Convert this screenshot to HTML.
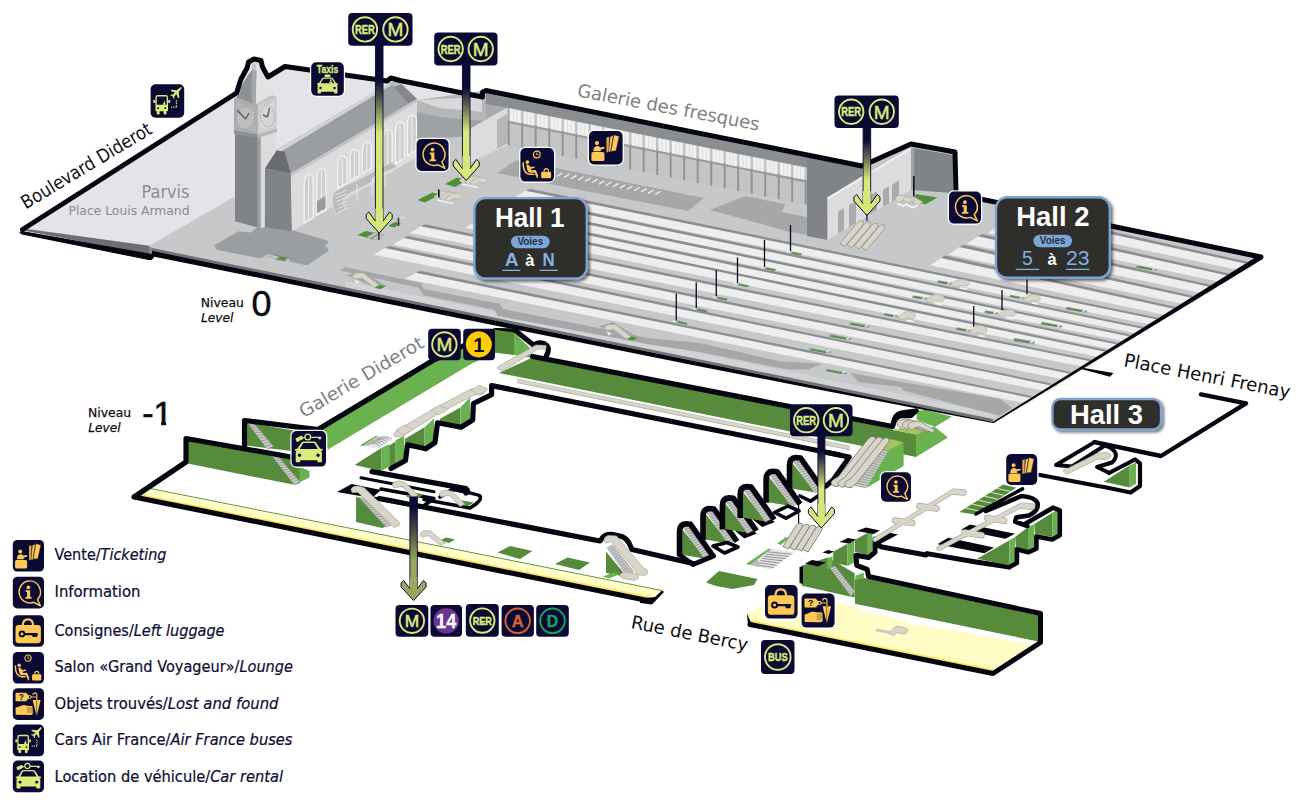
<!DOCTYPE html>
<html lang="fr"><head><meta charset="utf-8"><title>Gare de Lyon - Plan</title>
<style>
html,body{margin:0;padding:0;background:#fff;}
body{width:1300px;height:804px;overflow:hidden;font-family:"DejaVu Sans","Liberation Sans",sans-serif;}
svg{display:block;}
.lib{font-family:"Liberation Sans",sans-serif;}
</style></head><body>
<svg width="1300" height="804" viewBox="0 0 1300 804">
<g id="levelm1">
<polygon points="136.0,494.5 148.0,488.0 662.0,590.5 655.0,597.0 640.0,598.5" fill="#fffcc6" />
<polyline points="138.0,494.8 650.0,597.7" fill="none" stroke="#f3e85a" stroke-width="2.2" />
<polyline points="148.0,488.0 662.0,590.5" fill="none" stroke="#4f8a3a" stroke-width="0.9" />
<polygon points="246.0,422.5 300.0,431.5 300.0,452.0 246.0,445.5" fill="#568b3c" />
<polygon points="247.0,422.0 253.5,423.0 273.5,446.5 267.0,449.0" fill="#c9c9c9" /><path d="M247.0,422.0 L253.5,423.0" stroke="#8a8a8a" stroke-width="0.7"/><path d="M249.0,424.7 L255.5,425.4" stroke="#8a8a8a" stroke-width="0.7"/><path d="M251.0,427.4 L257.5,427.7" stroke="#8a8a8a" stroke-width="0.7"/><path d="M253.0,430.1 L259.5,430.1" stroke="#8a8a8a" stroke-width="0.7"/><path d="M255.0,432.8 L261.5,432.4" stroke="#8a8a8a" stroke-width="0.7"/><path d="M257.0,435.5 L263.5,434.8" stroke="#8a8a8a" stroke-width="0.7"/><path d="M259.0,438.2 L265.5,437.1" stroke="#8a8a8a" stroke-width="0.7"/><path d="M261.0,440.9 L267.5,439.4" stroke="#8a8a8a" stroke-width="0.7"/><path d="M263.0,443.6 L269.5,441.8" stroke="#8a8a8a" stroke-width="0.7"/><path d="M265.0,446.3 L271.5,444.1" stroke="#8a8a8a" stroke-width="0.7"/><path d="M267.0,449.0 L273.5,446.5" stroke="#8a8a8a" stroke-width="0.7"/>
<polygon points="319.0,430.5 432.0,362.5 497.0,330.5 497.0,352.0 471.0,364.0 328.0,449.5" fill="#6ab150" />
<polygon points="187.7,440.0 300.0,459.5 300.0,483.0 294.3,484.8 187.7,463.5" fill="#568b3c" />
<polygon points="299.4,466.8 309.5,471.0 309.5,477.5 299.4,482.3" fill="#6ab150" />
<polygon points="271.5,455.3 278.0,456.3 299.8,481.8 294.3,484.8" fill="#c9c9c9" /><path d="M271.5,455.3 L278.0,456.3" stroke="#8a8a8a" stroke-width="0.7"/><path d="M273.4,457.8 L279.8,458.4" stroke="#8a8a8a" stroke-width="0.7"/><path d="M275.3,460.2 L281.6,460.6" stroke="#8a8a8a" stroke-width="0.7"/><path d="M277.2,462.7 L283.4,462.7" stroke="#8a8a8a" stroke-width="0.7"/><path d="M279.1,465.1 L285.3,464.8" stroke="#8a8a8a" stroke-width="0.7"/><path d="M281.0,467.6 L287.1,466.9" stroke="#8a8a8a" stroke-width="0.7"/><path d="M282.9,470.1 L288.9,469.1" stroke="#8a8a8a" stroke-width="0.7"/><path d="M284.8,472.5 L290.7,471.2" stroke="#8a8a8a" stroke-width="0.7"/><path d="M286.7,475.0 L292.5,473.3" stroke="#8a8a8a" stroke-width="0.7"/><path d="M288.6,477.4 L294.4,475.4" stroke="#8a8a8a" stroke-width="0.7"/><path d="M290.5,479.9 L296.2,477.6" stroke="#8a8a8a" stroke-width="0.7"/><path d="M292.4,482.3 L298.0,479.7" stroke="#8a8a8a" stroke-width="0.7"/><path d="M294.3,484.8 L299.8,481.8" stroke="#8a8a8a" stroke-width="0.7"/>
<path d="M650,601 L134,497 L186,462 L186,438.5 L291,457" fill="none" stroke="#05050f" stroke-width="5.2" stroke-linejoin="round" stroke-linecap="round" />
<path d="M244.5,448.5 L244.5,420.5 L318,429.6 L432,361 L495,330.5 L516,331 L534,345.5" fill="none" stroke="#05050f" stroke-width="5.2" stroke-linejoin="round" stroke-linecap="round" />
<polygon points="640.0,598.5 655.0,597.0 662.0,590.5 664.0,592.0 652.0,604.5 640.0,603.0" fill="#05050f" />
<polygon points="494.0,329.5 514.0,332.5 514.0,355.0 494.0,352.5" fill="#568b3c" />
<polygon points="514.0,332.5 530.0,348.0 530.0,357.5 514.0,355.0" fill="#6ab150" />
<polygon points="532.5,357.5 892.5,429.0 892.5,452.0 850.0,443.5 499.0,373.0" fill="#568b3c" />
<polyline points="517.0,380.8 850.0,448.0" fill="none" stroke="#ffffff" stroke-width="6" />
<polyline points="517.0,380.8 850.0,448.0" fill="none" stroke="#d9d6c9" stroke-width="3.4" />
<polyline points="517.0,382.6 850.0,449.8" fill="none" stroke="#a8a69c" stroke-width="0.8" />
<polyline points="517.0,379.0 850.0,446.2" fill="none" stroke="#a8a69c" stroke-width="0.6" />
<path d="M532.5,356.5 L892.5,426.5 L894.5,419 Q897,413 904,412.5 L916,411" fill="none" stroke="#05050f" stroke-width="5.2" stroke-linejoin="round" stroke-linecap="round" />
<path d="M534,345.5 Q537,341.5 544,343.5 Q549.5,346 548,352 L546,357" fill="none" stroke="#05050f" stroke-width="5.2" stroke-linejoin="round" stroke-linecap="round" />
<path d="M497,368 L502,371.5 L538,349 L546,349 L546,345.5 L536,345 L499,366 Z" fill="#d9d6c9" stroke="#a8a69c" stroke-width="0.7"/>
<polygon points="440.0,418.7 460.3,407.6 460.3,425.8 440.0,421.8" fill="#568b3c" />
<polygon points="460.3,407.6 470.0,397.5 470.0,420.5 460.3,425.8" fill="#6ab150" />
<polygon points="404.8,439.0 424.4,427.2 424.4,446.5 404.8,443.0" fill="#568b3c" />
<polygon points="424.4,427.2 434.0,418.5 434.0,441.6 424.4,446.5" fill="#6ab150" />
<polygon points="354.6,465.0 381.3,448.0 381.3,471.0" fill="#568b3c" />
<polygon points="381.3,448.0 389.2,444.2 389.2,466.4 381.3,471.0" fill="#6ab150" />
<polygon points="389.2,445.5 395.7,441.6 395.7,463.8 389.2,466.4" fill="#568b3c" />
<polygon points="395.7,440.3 404.0,436.0 404.0,459.9 395.7,463.8" fill="#6ab150" />
<path d="M840,455 L491.6,385.6 L491.6,394.6 L473.4,403.5 L472.7,420 L461,427.2 L437.5,422.8 L435,442.5 L425.7,448.8 L407.4,444.8 L405.5,460.5 L391,468.5" fill="none" stroke="#05050f" stroke-width="5.2" stroke-linejoin="round" stroke-linecap="round" />
<polygon points="359.8,445.5 376.0,435.7 393.0,438.3 377.4,448.8" fill="#e8e8e8" />
<path d="M366.0,445.0 Q378.0,441.0 380.0,447.5" stroke="#8f8f8f" stroke-width="0.8" fill="none"/>
<path d="M368.2,443.6 Q380.0,439.8 382.4,445.8" stroke="#8f8f8f" stroke-width="0.8" fill="none"/>
<path d="M370.4,442.2 Q382.0,438.6 384.8,444.1" stroke="#8f8f8f" stroke-width="0.8" fill="none"/>
<path d="M372.6,440.8 Q384.0,437.4 387.2,442.4" stroke="#8f8f8f" stroke-width="0.8" fill="none"/>
<path d="M374.8,439.4 Q386.0,436.2 389.6,440.7" stroke="#8f8f8f" stroke-width="0.8" fill="none"/>
<path d="M377.0,438.0 Q388.0,435.0 392.0,439.0" stroke="#8f8f8f" stroke-width="0.8" fill="none"/>
<polygon points="359.8,445.5 376.0,435.7 378.0,436.0 363.5,446.0" fill="#6ab150" />
<path d="M394,433 Q392.5,436 396.5,437 L402,436.5 L436,415 L474,395 L482,394.5 Q487,392 485,388.5 L478,387.5 L470,389.5 L432,409.5 L400,428.5 Z" fill="#d9d6c9" stroke="#a8a69c" stroke-width="0.7"/>
<path d="M396,430 l8,-4.5 q3,-0.5 3.5,1.5 l4,1 q2,1 0,2.5 l-8,4.5 z" fill="#d9d6c9" stroke="#a8a69c" stroke-width="0.6"/>
<path d="M431,410 l8,-4.5 q3,-0.5 3.5,1.5 l4,1 q2,1 0,2.5 l-8,4.5 z" fill="#d9d6c9" stroke="#a8a69c" stroke-width="0.6"/>
<path d="M471,390 l8,-4.5 q3,-0.5 3.5,1.5 l4,1 q2,1 0,2.5 l-8,4.5 z" fill="#d9d6c9" stroke="#a8a69c" stroke-width="0.6"/>
<path d="M372,471.6 L466,488.6 Q469,490.5 466,493" fill="none" stroke="#05050f" stroke-width="5.2" stroke-linejoin="round" stroke-linecap="round" />
<path d="M361,477.8 L434,491.8" fill="none" stroke="#05050f" stroke-width="3" stroke-linejoin="round" stroke-linecap="round" />
<polygon points="337.0,492.0 351.5,484.0 381.0,490.0 372.0,498.0" fill="#05050f" />
<path d="M372,498 L422,507 L434,498.5 L381,489" fill="none" stroke="#05050f" stroke-width="3.4" stroke-linejoin="round" stroke-linecap="round" />
<path d="M440,497 L452,489.5 Q478,494 480,496 Q482,499 476,504 L470,508 L424,499.5" fill="none" stroke="#05050f" stroke-width="3.6" stroke-linejoin="round" stroke-linecap="round" />
<polygon points="413.0,492.5 424.0,494.5 417.0,499.0 406.0,497.0" fill="#568b3c" />
<polygon points="462.0,500.5 474.0,502.5 468.0,506.0 456.0,504.0" fill="#568b3c" />
<path d="M392,485 q1,-3.5 6,-4 l7,1.2 l13,13 l-5,2.2 l-11,-11 l-8,1.5 z" fill="#d9d6c9" stroke="#a8a69c" stroke-width="0.7"/>
<path d="M439,494 q1,-3.5 6,-4 l7,1.2 l13,13 l-5,2.2 l-11,-11 l-8,1.5 z" fill="#d9d6c9" stroke="#a8a69c" stroke-width="0.7"/>
<path d="M379.5,498.5 L600,541 L603,537 Q607,533.5 613,534.5 L622,536.5 Q627,539 629,543 L632,549.5 L693,563.5" fill="none" stroke="#05050f" stroke-width="5.2" stroke-linejoin="round" stroke-linecap="round" />
<polygon points="356.0,497.0 370.0,500.0 396.0,523.0 382.0,528.0 356.0,522.0" fill="#568b3c" />
<polygon points="359.0,497.5 366.0,499.0 394.0,524.0 386.0,527.0" fill="#c9c9c9" /><path d="M359.0,497.5 L366.0,499.0" stroke="#8a8a8a" stroke-width="0.7"/><path d="M361.2,500.0 L368.3,501.1" stroke="#8a8a8a" stroke-width="0.7"/><path d="M363.5,502.4 L370.7,503.2" stroke="#8a8a8a" stroke-width="0.7"/><path d="M365.8,504.9 L373.0,505.2" stroke="#8a8a8a" stroke-width="0.7"/><path d="M368.0,507.3 L375.3,507.3" stroke="#8a8a8a" stroke-width="0.7"/><path d="M370.2,509.8 L377.7,509.4" stroke="#8a8a8a" stroke-width="0.7"/><path d="M372.5,512.2 L380.0,511.5" stroke="#8a8a8a" stroke-width="0.7"/><path d="M374.8,514.7 L382.3,513.6" stroke="#8a8a8a" stroke-width="0.7"/><path d="M377.0,517.2 L384.7,515.7" stroke="#8a8a8a" stroke-width="0.7"/><path d="M379.2,519.6 L387.0,517.8" stroke="#8a8a8a" stroke-width="0.7"/><path d="M381.5,522.1 L389.3,519.8" stroke="#8a8a8a" stroke-width="0.7"/><path d="M383.8,524.5 L391.7,521.9" stroke="#8a8a8a" stroke-width="0.7"/><path d="M386.0,527.0 L394.0,524.0" stroke="#8a8a8a" stroke-width="0.7"/>
<path d="M351,489 q2,-3.5 7,-3 l6,1.5 l34,33.5 q3,2 1,4.5 l-5,2 l-36,-35 l-6,0 z" fill="#d9d6c9" stroke="#a8a69c" stroke-width="0.7"/>
<polygon points="734.7,530.6 746.0,527.4 757.0,533.5 744.4,538.5" fill="#05050f" />
<polygon points="752.5,519.3 763.9,516.0 775.0,522.0 762.2,527.0" fill="#05050f" />
<polygon points="681.5,528.3 681.5,554.8 705.5,558.8" fill="#568b3c" />
<polygon points="682.5,527.3 690.5,525.8 712.0,555.3 704.5,559.3" fill="#c9c9c9" /><path d="M682.5,527.3 L690.5,525.8" stroke="#8a8a8a" stroke-width="0.7"/><path d="M684.1,529.6 L692.0,527.9" stroke="#8a8a8a" stroke-width="0.7"/><path d="M685.6,531.9 L693.6,530.0" stroke="#8a8a8a" stroke-width="0.7"/><path d="M687.2,534.2 L695.1,532.1" stroke="#8a8a8a" stroke-width="0.7"/><path d="M688.8,536.4 L696.6,534.2" stroke="#8a8a8a" stroke-width="0.7"/><path d="M690.4,538.7 L698.2,536.3" stroke="#8a8a8a" stroke-width="0.7"/><path d="M691.9,541.0 L699.7,538.4" stroke="#8a8a8a" stroke-width="0.7"/><path d="M693.5,543.3 L701.2,540.5" stroke="#8a8a8a" stroke-width="0.7"/><path d="M695.1,545.6 L702.8,542.7" stroke="#8a8a8a" stroke-width="0.7"/><path d="M696.6,547.9 L704.3,544.8" stroke="#8a8a8a" stroke-width="0.7"/><path d="M698.2,550.2 L705.9,546.9" stroke="#8a8a8a" stroke-width="0.7"/><path d="M699.8,552.4 L707.4,549.0" stroke="#8a8a8a" stroke-width="0.7"/><path d="M701.4,554.7 L708.9,551.1" stroke="#8a8a8a" stroke-width="0.7"/><path d="M702.9,557.0 L710.5,553.2" stroke="#8a8a8a" stroke-width="0.7"/><path d="M704.5,559.3 L712.0,555.3" stroke="#8a8a8a" stroke-width="0.7"/>
<path d="M679.5,555.3 L679.5,531.8 Q679.5,524.1 686.0,523.8 L690.5,524.3 L713.5,556.8" fill="none" stroke="#05050f" stroke-width="5.6" stroke-linejoin="round" stroke-linecap="butt"/>
<polygon points="705.0,513.0 705.0,539.5 729.0,543.5" fill="#568b3c" />
<polygon points="706.0,512.0 714.0,510.5 735.5,540.0 728.0,544.0" fill="#c9c9c9" /><path d="M706.0,512.0 L714.0,510.5" stroke="#8a8a8a" stroke-width="0.7"/><path d="M707.6,514.3 L715.5,512.6" stroke="#8a8a8a" stroke-width="0.7"/><path d="M709.1,516.6 L717.1,514.7" stroke="#8a8a8a" stroke-width="0.7"/><path d="M710.7,518.9 L718.6,516.8" stroke="#8a8a8a" stroke-width="0.7"/><path d="M712.3,521.1 L720.1,518.9" stroke="#8a8a8a" stroke-width="0.7"/><path d="M713.9,523.4 L721.7,521.0" stroke="#8a8a8a" stroke-width="0.7"/><path d="M715.4,525.7 L723.2,523.1" stroke="#8a8a8a" stroke-width="0.7"/><path d="M717.0,528.0 L724.8,525.2" stroke="#8a8a8a" stroke-width="0.7"/><path d="M718.6,530.3 L726.3,527.4" stroke="#8a8a8a" stroke-width="0.7"/><path d="M720.1,532.6 L727.8,529.5" stroke="#8a8a8a" stroke-width="0.7"/><path d="M721.7,534.9 L729.4,531.6" stroke="#8a8a8a" stroke-width="0.7"/><path d="M723.3,537.1 L730.9,533.7" stroke="#8a8a8a" stroke-width="0.7"/><path d="M724.9,539.4 L732.4,535.8" stroke="#8a8a8a" stroke-width="0.7"/><path d="M726.4,541.7 L734.0,537.9" stroke="#8a8a8a" stroke-width="0.7"/><path d="M728.0,544.0 L735.5,540.0" stroke="#8a8a8a" stroke-width="0.7"/>
<path d="M703.0,540.0 L703.0,516.5 Q703.0,508.8 709.5,508.5 L714.0,509.0 L737.0,541.5" fill="none" stroke="#05050f" stroke-width="5.6" stroke-linejoin="round" stroke-linecap="butt"/>
<polygon points="724.4,502.4 724.4,528.9 748.4,532.9" fill="#568b3c" />
<polygon points="725.4,501.4 733.4,499.9 754.9,529.4 747.4,533.4" fill="#c9c9c9" /><path d="M725.4,501.4 L733.4,499.9" stroke="#8a8a8a" stroke-width="0.7"/><path d="M727.0,503.7 L734.9,502.0" stroke="#8a8a8a" stroke-width="0.7"/><path d="M728.5,506.0 L736.5,504.1" stroke="#8a8a8a" stroke-width="0.7"/><path d="M730.1,508.3 L738.0,506.2" stroke="#8a8a8a" stroke-width="0.7"/><path d="M731.7,510.5 L739.5,508.3" stroke="#8a8a8a" stroke-width="0.7"/><path d="M733.3,512.8 L741.1,510.4" stroke="#8a8a8a" stroke-width="0.7"/><path d="M734.8,515.1 L742.6,512.5" stroke="#8a8a8a" stroke-width="0.7"/><path d="M736.4,517.4 L744.1,514.6" stroke="#8a8a8a" stroke-width="0.7"/><path d="M738.0,519.7 L745.7,516.8" stroke="#8a8a8a" stroke-width="0.7"/><path d="M739.5,522.0 L747.2,518.9" stroke="#8a8a8a" stroke-width="0.7"/><path d="M741.1,524.3 L748.8,521.0" stroke="#8a8a8a" stroke-width="0.7"/><path d="M742.7,526.5 L750.3,523.1" stroke="#8a8a8a" stroke-width="0.7"/><path d="M744.3,528.8 L751.8,525.2" stroke="#8a8a8a" stroke-width="0.7"/><path d="M745.8,531.1 L753.4,527.3" stroke="#8a8a8a" stroke-width="0.7"/><path d="M747.4,533.4 L754.9,529.4" stroke="#8a8a8a" stroke-width="0.7"/>
<path d="M722.4,529.4 L722.4,505.9 Q722.4,498.2 728.9,497.9 L733.4,498.4 L756.4,530.9" fill="none" stroke="#05050f" stroke-width="5.6" stroke-linejoin="round" stroke-linecap="butt"/>
<polygon points="742.2,491.1 742.2,517.6 766.2,521.6" fill="#568b3c" />
<polygon points="743.2,490.1 751.2,488.6 772.7,518.1 765.2,522.1" fill="#c9c9c9" /><path d="M743.2,490.1 L751.2,488.6" stroke="#8a8a8a" stroke-width="0.7"/><path d="M744.8,492.4 L752.7,490.7" stroke="#8a8a8a" stroke-width="0.7"/><path d="M746.3,494.7 L754.3,492.8" stroke="#8a8a8a" stroke-width="0.7"/><path d="M747.9,497.0 L755.8,494.9" stroke="#8a8a8a" stroke-width="0.7"/><path d="M749.5,499.2 L757.3,497.0" stroke="#8a8a8a" stroke-width="0.7"/><path d="M751.1,501.5 L758.9,499.1" stroke="#8a8a8a" stroke-width="0.7"/><path d="M752.6,503.8 L760.4,501.2" stroke="#8a8a8a" stroke-width="0.7"/><path d="M754.2,506.1 L762.0,503.4" stroke="#8a8a8a" stroke-width="0.7"/><path d="M755.8,508.4 L763.5,505.5" stroke="#8a8a8a" stroke-width="0.7"/><path d="M757.3,510.7 L765.0,507.6" stroke="#8a8a8a" stroke-width="0.7"/><path d="M758.9,513.0 L766.6,509.7" stroke="#8a8a8a" stroke-width="0.7"/><path d="M760.5,515.2 L768.1,511.8" stroke="#8a8a8a" stroke-width="0.7"/><path d="M762.1,517.5 L769.6,513.9" stroke="#8a8a8a" stroke-width="0.7"/><path d="M763.6,519.8 L771.2,516.0" stroke="#8a8a8a" stroke-width="0.7"/><path d="M765.2,522.1 L772.7,518.1" stroke="#8a8a8a" stroke-width="0.7"/>
<path d="M740.2,518.1 L740.2,494.6 Q740.2,486.9 746.7,486.6 L751.2,487.1 L774.2,519.6" fill="none" stroke="#05050f" stroke-width="5.6" stroke-linejoin="round" stroke-linecap="butt"/>
<polygon points="768.1,475.7 768.1,502.2 792.1,506.2" fill="#568b3c" />
<polygon points="769.1,474.7 777.1,473.2 798.6,502.7 791.1,506.7" fill="#c9c9c9" /><path d="M769.1,474.7 L777.1,473.2" stroke="#8a8a8a" stroke-width="0.7"/><path d="M770.7,477.0 L778.6,475.3" stroke="#8a8a8a" stroke-width="0.7"/><path d="M772.2,479.3 L780.2,477.4" stroke="#8a8a8a" stroke-width="0.7"/><path d="M773.8,481.6 L781.7,479.5" stroke="#8a8a8a" stroke-width="0.7"/><path d="M775.4,483.8 L783.2,481.6" stroke="#8a8a8a" stroke-width="0.7"/><path d="M777.0,486.1 L784.8,483.7" stroke="#8a8a8a" stroke-width="0.7"/><path d="M778.5,488.4 L786.3,485.8" stroke="#8a8a8a" stroke-width="0.7"/><path d="M780.1,490.7 L787.9,487.9" stroke="#8a8a8a" stroke-width="0.7"/><path d="M781.7,493.0 L789.4,490.1" stroke="#8a8a8a" stroke-width="0.7"/><path d="M783.2,495.3 L790.9,492.2" stroke="#8a8a8a" stroke-width="0.7"/><path d="M784.8,497.6 L792.5,494.3" stroke="#8a8a8a" stroke-width="0.7"/><path d="M786.4,499.8 L794.0,496.4" stroke="#8a8a8a" stroke-width="0.7"/><path d="M788.0,502.1 L795.5,498.5" stroke="#8a8a8a" stroke-width="0.7"/><path d="M789.5,504.4 L797.1,500.6" stroke="#8a8a8a" stroke-width="0.7"/><path d="M791.1,506.7 L798.6,502.7" stroke="#8a8a8a" stroke-width="0.7"/>
<path d="M766.1,502.7 L766.1,479.2 Q766.1,471.5 772.6,471.2 L777.1,471.7 L800.1,504.2" fill="none" stroke="#05050f" stroke-width="5.6" stroke-linejoin="round" stroke-linecap="butt"/>
<polygon points="791.5,462.0 791.5,488.5 815.5,492.5" fill="#568b3c" />
<polygon points="792.5,461.0 800.5,459.5 822.0,489.0 814.5,493.0" fill="#c9c9c9" /><path d="M792.5,461.0 L800.5,459.5" stroke="#8a8a8a" stroke-width="0.7"/><path d="M794.1,463.3 L802.0,461.6" stroke="#8a8a8a" stroke-width="0.7"/><path d="M795.6,465.6 L803.6,463.7" stroke="#8a8a8a" stroke-width="0.7"/><path d="M797.2,467.9 L805.1,465.8" stroke="#8a8a8a" stroke-width="0.7"/><path d="M798.8,470.1 L806.6,467.9" stroke="#8a8a8a" stroke-width="0.7"/><path d="M800.4,472.4 L808.2,470.0" stroke="#8a8a8a" stroke-width="0.7"/><path d="M801.9,474.7 L809.7,472.1" stroke="#8a8a8a" stroke-width="0.7"/><path d="M803.5,477.0 L811.2,474.2" stroke="#8a8a8a" stroke-width="0.7"/><path d="M805.1,479.3 L812.8,476.4" stroke="#8a8a8a" stroke-width="0.7"/><path d="M806.6,481.6 L814.3,478.5" stroke="#8a8a8a" stroke-width="0.7"/><path d="M808.2,483.9 L815.9,480.6" stroke="#8a8a8a" stroke-width="0.7"/><path d="M809.8,486.1 L817.4,482.7" stroke="#8a8a8a" stroke-width="0.7"/><path d="M811.4,488.4 L818.9,484.8" stroke="#8a8a8a" stroke-width="0.7"/><path d="M812.9,490.7 L820.5,486.9" stroke="#8a8a8a" stroke-width="0.7"/><path d="M814.5,493.0 L822.0,489.0" stroke="#8a8a8a" stroke-width="0.7"/>
<path d="M789.5,489.0 L789.5,465.5 Q789.5,457.8 796.0,457.5 L800.5,458.0 L823.5,490.5" fill="none" stroke="#05050f" stroke-width="5.6" stroke-linejoin="round" stroke-linecap="butt"/>
<path d="M679.5,555 L693,564.5 L713.5,556" fill="none" stroke="#05050f" stroke-width="5" stroke-linejoin="round" stroke-linecap="round" />
<path d="M713,546 L724.5,553 L738,547 L727,542.5 Z" fill="none" stroke="#05050f" stroke-width="3.6" stroke-linejoin="round" stroke-linecap="round" />
<path d="M774.5,512.5 L786,518.2 L799,511 L788,506 Z" fill="none" stroke="#05050f" stroke-width="3.6" stroke-linejoin="round" stroke-linecap="round" />
<path d="M800,496 L810.5,501.2 L820,494.5" fill="none" stroke="#05050f" stroke-width="3.6" stroke-linejoin="round" stroke-linecap="round" />
<path d="M798.6,498 V531" stroke="#05050f" stroke-width="1.2"/>
<path d="M783.0,546.5 l13,-21 q2.5,-3.5 6,-2 q1.5,2 -0.5,5 l-13,20.5 z" fill="#d9d6c9" stroke="#6f6e66" stroke-width="0.8"/>
<path d="M789.5,547.5 l13,-21 q2.5,-3.5 6,-2 q1.5,2 -0.5,5 l-13,20.5 z" fill="#d9d6c9" stroke="#6f6e66" stroke-width="0.8"/>
<path d="M796.0,548.5 l13,-21 q2.5,-3.5 6,-2 q1.5,2 -0.5,5 l-13,20.5 z" fill="#d9d6c9" stroke="#6f6e66" stroke-width="0.8"/>
<path d="M802.5,549.5 l13,-21 q2.5,-3.5 6,-2 q1.5,2 -0.5,5 l-13,20.5 z" fill="#d9d6c9" stroke="#6f6e66" stroke-width="0.8"/>
<polygon points="777.0,543.5 786.0,537.0 789.0,538.0 781.0,545.0" fill="#6ab150" />
<polygon points="746.0,564.0 769.0,548.5 794.0,552.5 771.0,569.5" fill="#e3e3e3" />
<path d="M757.0,565.0 L774.0,567.5" stroke="#7d7d7d" stroke-width="0.8"/>
<path d="M758.8,562.8 L776.9,565.3" stroke="#7d7d7d" stroke-width="0.8"/>
<path d="M760.6,560.6 L779.8,563.1" stroke="#7d7d7d" stroke-width="0.8"/>
<path d="M762.4,558.4 L782.7,560.9" stroke="#7d7d7d" stroke-width="0.8"/>
<path d="M764.2,556.2 L785.6,558.7" stroke="#7d7d7d" stroke-width="0.8"/>
<path d="M766.0,554.0 L788.5,556.5" stroke="#7d7d7d" stroke-width="0.8"/>
<path d="M767.8,551.8 L791.4,554.3" stroke="#7d7d7d" stroke-width="0.8"/>
<polygon points="746.0,564.0 769.0,548.5 771.0,549.0 750.0,565.0" fill="#6ab150" />
<polygon points="750.0,565.0 758.0,559.5 760.0,567.0" fill="#b9babc" />
<polygon points="916.6,410.7 925.7,410.0 951.9,416.5 934.9,427.0 916.6,419.8" fill="#6ab150" />
<polygon points="916.0,434.2 931.0,427.6 934.9,427.0 948.0,437.4 916.0,457.0" fill="#6ab150" />
<polygon points="825.0,437.4 853.0,423.0 893.0,430.0 916.0,434.2 916.0,457.0" fill="#568b3c" />
<polygon points="893.0,429.6 916.0,425.7 924.4,429.0 931.0,427.6 916.0,434.8" fill="#a6c366" />
<polygon points="887.9,451.0 903.6,442.6 903.6,466.0 865.7,488.3" fill="#6ab150" />
<polygon points="877.4,438.7 893.0,439.4 903.6,442.6 887.9,451.0 878.7,447.2" fill="#a6c366" />
<polygon points="877.4,448.5 887.9,451.0 865.7,487.7 854.0,485.0" fill="#c9c9c9" /><path d="M877.4,448.5 L887.9,451.0" stroke="#8a8a8a" stroke-width="0.7"/><path d="M875.9,450.8 L886.5,453.3" stroke="#8a8a8a" stroke-width="0.7"/><path d="M874.5,453.1 L885.1,455.6" stroke="#8a8a8a" stroke-width="0.7"/><path d="M873.0,455.3 L883.7,457.9" stroke="#8a8a8a" stroke-width="0.7"/><path d="M871.5,457.6 L882.4,460.2" stroke="#8a8a8a" stroke-width="0.7"/><path d="M870.1,459.9 L881.0,462.5" stroke="#8a8a8a" stroke-width="0.7"/><path d="M868.6,462.2 L879.6,464.8" stroke="#8a8a8a" stroke-width="0.7"/><path d="M867.2,464.5 L878.2,467.1" stroke="#8a8a8a" stroke-width="0.7"/><path d="M865.7,466.8 L876.8,469.4" stroke="#8a8a8a" stroke-width="0.7"/><path d="M864.2,469.0 L875.4,471.6" stroke="#8a8a8a" stroke-width="0.7"/><path d="M862.8,471.3 L874.0,473.9" stroke="#8a8a8a" stroke-width="0.7"/><path d="M861.3,473.6 L872.6,476.2" stroke="#8a8a8a" stroke-width="0.7"/><path d="M859.9,475.9 L871.2,478.5" stroke="#8a8a8a" stroke-width="0.7"/><path d="M858.4,478.2 L869.9,480.8" stroke="#8a8a8a" stroke-width="0.7"/><path d="M856.9,480.4 L868.5,483.1" stroke="#8a8a8a" stroke-width="0.7"/><path d="M855.5,482.7 L867.1,485.4" stroke="#8a8a8a" stroke-width="0.7"/><path d="M854.0,485.0 L865.7,487.7" stroke="#8a8a8a" stroke-width="0.7"/>
<path d="M826,486 L833,480 L849,457.5" fill="none" stroke="#05050f" stroke-width="5" stroke-linejoin="round" stroke-linecap="round" />
<path d="M827,452.5 L849,457" fill="none" stroke="#05050f" stroke-width="5" stroke-linejoin="round" stroke-linecap="round" />
<path d="M831.5,485.0 q-1.5,-3.5 2,-5.5 l5,-3 l30,-38 q3,-3 6.5,-1.5 q1.5,2.5 -1,5.5 l-30,38.5 l-5.5,5 q-3.5,1.5 -7,-1 z" fill="#d9d6c9" stroke="#77766e" stroke-width="0.8"/>
<path d="M838.3,485.6 q-1.5,-3.5 2,-5.5 l5,-3 l30,-38 q3,-3 6.5,-1.5 q1.5,2.5 -1,5.5 l-30,38.5 l-5.5,5 q-3.5,1.5 -7,-1 z" fill="#d9d6c9" stroke="#77766e" stroke-width="0.8"/>
<path d="M845.1,486.2 q-1.5,-3.5 2,-5.5 l5,-3 l30,-38 q3,-3 6.5,-1.5 q1.5,2.5 -1,5.5 l-30,38.5 l-5.5,5 q-3.5,1.5 -7,-1 z" fill="#d9d6c9" stroke="#77766e" stroke-width="0.8"/>
<path d="M893.5,424 Q894.5,417.5 901,416 L911,416 L916.6,410.7" fill="none" stroke="#05050f" stroke-width="4.4" stroke-linejoin="round" stroke-linecap="round" />
<path d="M897.0,425.0 q-1,-3 2,-4.5 l6,-1.5 l5,1 l14,8 l-2,3 l-14,-6 l-4,0.5 l-3,3 z" fill="#d9d6c9" stroke="#77766e" stroke-width="0.7"/>
<path d="M902.5,426.0 q-1,-3 2,-4.5 l6,-1.5 l5,1 l14,8 l-2,3 l-14,-6 l-4,0.5 l-3,3 z" fill="#d9d6c9" stroke="#77766e" stroke-width="0.7"/>
<path d="M908.0,427.0 q-1,-3 2,-4.5 l6,-1.5 l5,1 l14,8 l-2,3 l-14,-6 l-4,0.5 l-3,3 z" fill="#d9d6c9" stroke="#77766e" stroke-width="0.7"/>
<polygon points="706.0,582.5 719.0,571.0 757.5,579.0 754.0,585.0 732.5,589.0 716.0,586.0" fill="#568b3c" />
<polygon points="747.5,614.0 766.0,603.0 838.0,603.0 858.0,607.5 862.0,611.5 907.0,621.0 912.0,624.5 935.0,627.5 1035.0,645.0 1040.0,643.5 993.0,672.5 750.0,623.0" fill="#fffcc6" />
<polyline points="751.0,621.5 993.0,670.5" fill="none" stroke="#f3e85a" stroke-width="2.4" />
<polyline points="993.0,671.0 1037.0,644.5" fill="none" stroke="#e8e8e8" stroke-width="1.5" />
<polygon points="875.0,631.0 893.0,634.5 895.0,632.0 877.0,628.5" fill="#c9c9c2" />
<path d="M889,633.5 l5,-5.5 q2,-2 5,-1.5 l7,1.5 q3,1.5 1,4 l-2,2 l-8,-1.5 l-3,3 z" fill="#d9d6c9" stroke="#a8a69c" stroke-width="0.7"/>
<polygon points="855.0,579.5 864.0,578.0 1038.5,615.5 1038.5,641.5 855.0,603.8" fill="#568b3c" />
<polygon points="855.4,575.8 863.9,572.6 863.9,578.5 855.4,579.8" fill="#6ab150" />
<polygon points="802.4,565.4 827.9,557.5 854.7,573.2 854.7,597.6 801.8,585.7" fill="#568b3c" />
<polygon points="827.3,558.2 832.5,556.2 832.5,566.7 827.3,569.3" fill="#6ab150" />
<polygon points="829.9,568.0 835.1,566.0 854.7,591.5 850.8,596.1" fill="#c9c9c9" /><path d="M829.9,568.0 L835.1,566.0" stroke="#8a8a8a" stroke-width="0.7"/><path d="M831.4,570.0 L836.5,567.8" stroke="#8a8a8a" stroke-width="0.7"/><path d="M832.9,572.0 L837.9,569.6" stroke="#8a8a8a" stroke-width="0.7"/><path d="M834.4,574.0 L839.3,571.5" stroke="#8a8a8a" stroke-width="0.7"/><path d="M835.9,576.0 L840.7,573.3" stroke="#8a8a8a" stroke-width="0.7"/><path d="M837.4,578.0 L842.1,575.1" stroke="#8a8a8a" stroke-width="0.7"/><path d="M838.9,580.0 L843.5,576.9" stroke="#8a8a8a" stroke-width="0.7"/><path d="M840.3,582.0 L844.9,578.8" stroke="#8a8a8a" stroke-width="0.7"/><path d="M841.8,584.1 L846.3,580.6" stroke="#8a8a8a" stroke-width="0.7"/><path d="M843.3,586.1 L847.7,582.4" stroke="#8a8a8a" stroke-width="0.7"/><path d="M844.8,588.1 L849.1,584.2" stroke="#8a8a8a" stroke-width="0.7"/><path d="M846.3,590.1 L850.5,586.0" stroke="#8a8a8a" stroke-width="0.7"/><path d="M847.8,592.1 L851.9,587.9" stroke="#8a8a8a" stroke-width="0.7"/><path d="M849.3,594.1 L853.3,589.7" stroke="#8a8a8a" stroke-width="0.7"/><path d="M850.8,596.1 L854.7,591.5" stroke="#8a8a8a" stroke-width="0.7"/>
<polygon points="833.2,551.7 847.5,543.8 847.5,565.8 833.2,562.8" fill="#568b3c" />
<polygon points="847.5,543.8 854.0,540.5 854.0,562.8 847.5,566.0" fill="#6ab150" />
<polygon points="854.7,539.9 867.8,532.7 867.8,554.9 854.7,551.7" fill="#568b3c" />
<polygon points="867.8,532.7 872.4,529.4 872.4,551.0 867.8,554.9" fill="#6ab150" />
<polygon points="856.5,531.0 866.0,527.5 880.0,530.5 873.5,534.0" fill="#05050f" />
<polygon points="839.5,542.0 848.0,538.0 856.0,539.5 849.0,543.5" fill="#05050f" />
<polygon points="822.5,552.5 828.0,550.0 834.0,551.5 829.0,554.0" fill="#05050f" />
<polygon points="805.0,563.5 812.0,560.0 826.0,562.5 818.0,566.5" fill="#05050f" />
<polygon points="799.5,567.0 803.0,566.0 803.0,584.0 799.5,583.0" fill="#05050f" />
<path d="M875,539 L875,552.3 L868.5,557.5 L856,555.2 L856.7,565.4 L867.2,569.3 L868.5,576.5 L1040.5,613.5 L1040.5,642.5 L993,673.5 L750,624.5" fill="none" stroke="#05050f" stroke-width="5" stroke-linejoin="round" stroke-linecap="round" />
<polygon points="747.0,613.5 750.5,621.5 755.0,627.0 748.0,626.0" fill="#05050f" />
<polygon points="874.0,538.0 886.0,532.0 898.0,534.5 880.0,544.0" fill="#05050f" />
<path d="M878,541.5 Q877.5,546 882,547 L926,555 L927,553.6 L976,562 L1009.4,567" fill="none" stroke="#05050f" stroke-width="5" stroke-linejoin="round" stroke-linecap="round" />
<polygon points="977.1,558.8 1009.4,540.2 1009.4,565.5" fill="#568b3c" />
<polygon points="1009.4,540.2 1015.1,537.0 1015.1,561.4 1009.4,565.5" fill="#6ab150" />
<polygon points="1015.1,537.0 1028.0,527.3 1028.0,549.9 1015.9,546.7" fill="#568b3c" />
<polygon points="1028.0,527.3 1034.5,524.0 1034.5,546.7 1028.0,549.9" fill="#6ab150" />
<polygon points="1034.5,524.0 1052.2,512.7 1052.2,537.0 1035.3,533.7" fill="#568b3c" />
<polygon points="1052.2,512.7 1057.9,509.5 1057.9,533.7 1052.2,537.0" fill="#6ab150" />
<path d="M1009.4,567 L1016.9,563 L1016.9,549.2 L1028,552.3 L1036.4,548.6 L1036.4,536.4 L1052.2,539.4 L1059.8,535.3 L1059.8,510.3 L1053,507.7 L1024,524.4" fill="none" stroke="#05050f" stroke-width="4.6" stroke-linejoin="round" stroke-linecap="round" />
<polygon points="961.0,529.7 970.0,524.6 1015.0,533.7 1005.4,538.8" fill="#05050f" />
<polygon points="937.5,544.2 948.0,537.8 994.0,547.5 984.4,553.2" fill="#05050f" />
<path d="M986,511 L1021.5,496 Q1035,497 1037.5,503 Q1039,510.5 1029,515.5 L1016.3,517.4 L1015.2,521.7 L1027.4,526" fill="none" stroke="#05050f" stroke-width="4.6" stroke-linejoin="round" stroke-linecap="round" />
<polygon points="959.4,511.9 1003.2,484.5 1016.3,487.7 974.5,514.5" fill="#568b3c" />
<path d="M965.7,508.0 l13.5,3" stroke="#e9f1e4" stroke-width="0.9"/>
<path d="M971.9,504.1 l13.5,3" stroke="#e9f1e4" stroke-width="0.9"/>
<path d="M978.2,500.2 l13.5,3" stroke="#e9f1e4" stroke-width="0.9"/>
<path d="M984.4,496.2 l13.5,3" stroke="#e9f1e4" stroke-width="0.9"/>
<path d="M990.7,492.3 l13.5,3" stroke="#e9f1e4" stroke-width="0.9"/>
<path d="M996.9,488.4 l13.5,3" stroke="#e9f1e4" stroke-width="0.9"/>
<path d="M976,514 L1022.5,488.8" fill="none" stroke="#05050f" stroke-width="3.6" stroke-linejoin="round" stroke-linecap="round" />
<path d="M875.0,539.5 L953.0,491.5 L963.5,492.5" fill="none" stroke="#a8a69c" stroke-width="4.9" stroke-linecap="round" stroke-linejoin="round"/><path d="M895.1,520.5 L912.1,523.1 M919.4,506.0 L936.4,508.6 " fill="none" stroke="#a8a69c" stroke-width="6.6" stroke-linecap="round"/><path d="M954.0,491.7 L963.5,492.5" fill="none" stroke="#a8a69c" stroke-width="6.6" stroke-linecap="round"/><path d="M895.1,520.5 L912.1,523.1 M919.4,506.0 L936.4,508.6 " fill="none" stroke="#d9d6c9" stroke-width="5.2" stroke-linecap="round"/><path d="M954.0,491.7 L963.5,492.5" fill="none" stroke="#d9d6c9" stroke-width="5.2" stroke-linecap="round"/><path d="M875.0,539.5 L953.0,491.5 L963.5,492.5" fill="none" stroke="#d9d6c9" stroke-width="3.6" stroke-linecap="round" stroke-linejoin="round"/>
<path d="M939.0,548.5 L1021.0,505.5 L1032.0,506.8" fill="none" stroke="#a8a69c" stroke-width="4.9" stroke-linecap="round" stroke-linejoin="round"/><path d="M964.5,532.6 L981.5,535.2 M987.2,518.1 L1004.2,520.7 " fill="none" stroke="#a8a69c" stroke-width="6.6" stroke-linecap="round"/><path d="M1022.0,505.7 L1032.0,506.8" fill="none" stroke="#a8a69c" stroke-width="6.6" stroke-linecap="round"/><path d="M964.5,532.6 L981.5,535.2 M987.2,518.1 L1004.2,520.7 " fill="none" stroke="#d9d6c9" stroke-width="5.2" stroke-linecap="round"/><path d="M1022.0,505.7 L1032.0,506.8" fill="none" stroke="#d9d6c9" stroke-width="5.2" stroke-linecap="round"/><path d="M939.0,548.5 L1021.0,505.5 L1032.0,506.8" fill="none" stroke="#d9d6c9" stroke-width="3.6" stroke-linecap="round" stroke-linejoin="round"/>
<path d="M1040,475 L1098,486 L1104,487 L1130.6,492.5 L1140,486 L1140,463.4 L1135,459.5 L1109,473" fill="none" stroke="#05050f" stroke-width="4.2" stroke-linejoin="round" stroke-linecap="round" />
<polygon points="1103.8,481.8 1129.7,465.2 1129.7,487.4" fill="#568b3c" />
<polygon points="1129.7,465.2 1136.1,462.5 1136.1,483.7 1129.7,487.4" fill="#6ab150" />
<path d="M1109,472.8 L1097,467 L1112,462.5 Q1118,457 1115,452 Q1112,447.5 1106,446" fill="none" stroke="#05050f" stroke-width="4" stroke-linejoin="round" stroke-linecap="round" />
<path d="M1056,465 L1094.6,442.1 L1106,444.8 L1072,466.5 Z" fill="none" stroke="#05050f" stroke-width="4" stroke-linejoin="round" stroke-linecap="round" />
<path d="M1063,470.8 L1066,474.5 L1098,459 L1106,459.5 Q1111,458.5 1111,455 Q1109,452 1104,452.5 L1097,453.5 Z" fill="#d9d6c9" stroke="#a8a69c" stroke-width="0.7"/>
<path d="M1094.6,442.1 L1161,456 L1246,403.4 L1201,394.4" fill="none" stroke="#05050f" stroke-width="4.4" stroke-linejoin="round" stroke-linecap="round" stroke-linecap="butt"/>
<polygon points="1081.0,369.0 1084.0,368.0 1113.5,373.0 1110.0,376.8" fill="#05050f" />
<polygon points="497.5,552.5 510.0,546.0 532.5,551.0 520.0,559.0" fill="#568b3c" />
<polygon points="555.0,564.0 567.5,557.5 590.0,562.5 579.0,570.0" fill="#568b3c" />
<polygon points="440.0,540.5 446.0,537.5 455.0,539.5 449.0,543.0" fill="#568b3c" />
<path d="M420,535 q0.5,-3.5 4.5,-4.5 l6,0.5 l15,12 l-4.5,2.5 l-13,-10 l-6,1.5 z" fill="#d9d6c9" stroke="#a8a69c" stroke-width="0.7"/>
<polygon points="606.0,551.5 606.0,573.0 627.0,577.0" fill="#568b3c" />
<polygon points="607.0,548.0 613.0,545.0 634.0,571.0 627.0,577.0" fill="#c9c9c9" /><path d="M607.0,548.0 L613.0,545.0" stroke="#8a8a8a" stroke-width="0.7"/><path d="M608.4,550.1 L614.5,546.9" stroke="#8a8a8a" stroke-width="0.7"/><path d="M609.9,552.1 L616.0,548.7" stroke="#8a8a8a" stroke-width="0.7"/><path d="M611.3,554.2 L617.5,550.6" stroke="#8a8a8a" stroke-width="0.7"/><path d="M612.7,556.3 L619.0,552.4" stroke="#8a8a8a" stroke-width="0.7"/><path d="M614.1,558.4 L620.5,554.3" stroke="#8a8a8a" stroke-width="0.7"/><path d="M615.6,560.4 L622.0,556.1" stroke="#8a8a8a" stroke-width="0.7"/><path d="M617.0,562.5 L623.5,558.0" stroke="#8a8a8a" stroke-width="0.7"/><path d="M618.4,564.6 L625.0,559.9" stroke="#8a8a8a" stroke-width="0.7"/><path d="M619.9,566.6 L626.5,561.7" stroke="#8a8a8a" stroke-width="0.7"/><path d="M621.3,568.7 L628.0,563.6" stroke="#8a8a8a" stroke-width="0.7"/><path d="M622.7,570.8 L629.5,565.4" stroke="#8a8a8a" stroke-width="0.7"/><path d="M624.1,572.9 L631.0,567.3" stroke="#8a8a8a" stroke-width="0.7"/><path d="M625.6,574.9 L632.5,569.1" stroke="#8a8a8a" stroke-width="0.7"/><path d="M627.0,577.0 L634.0,571.0" stroke="#8a8a8a" stroke-width="0.7"/>
<polygon points="603.0,576.5 614.0,572.5 620.0,574.0 609.0,578.5" fill="#6ab150" />
<path d="M604,540.5 q0,-4 4.5,-5 l8,0.5 l27,32 q4,1 4.5,4.5 q-1,3 -5,3 l-6,-1.5 l-2,-4 l-24,-28.5 l-5.5,1.5 z" fill="#d9d6c9" stroke="#a8a69c" stroke-width="0.7"/>
<path d="M620,575.5 q1,-3.5 5,-3.5 l12,2 q3,1.5 1,4.5 l-4,2 l-12,-2.5 z" fill="#d9d6c9" stroke="#a8a69c" stroke-width="0.7"/>
</g>
<g id="level0">
<polygon points="23.0,228.0 236.5,93.0 241.0,79.0 247.0,68.0 248.5,62.0 254.0,59.0 261.0,60.5 262.5,67.0 268.0,77.0 285.0,66.5 345.0,75.0 387.0,81.0 391.0,78.0 400.0,80.5 482.5,97.0 482.5,92.0 486.0,90.5 862.0,166.0 911.0,144.0 955.0,152.0 956.0,194.0 1261.0,257.0 993.0,422.5 151.0,252.0" fill="#c7c8ca" />
<polygon points="23.0,228.0 236.5,93.0 248.5,62.0 262.0,62.0 268.0,77.0 285.0,66.5 345.0,75.0 387.0,81.0 400.0,80.5 482.0,97.0 482.0,120.0 417.0,112.0 417.0,100.0 392.0,84.0 276.0,150.0 262.0,200.0 234.0,197.0 149.0,246.0" fill="#e3e3e8" />
<path d="M216.5,246 L238.7,233.2 L251.4,234.3 L258.3,229 L262,222 L292,226 L292,232 L326.7,242.2 L322.5,245.5 L326.7,250 L306.8,263.5 L291.5,260.3 L288.8,256.5 L267.5,252.4 L260,256.6 L218,248.2 Z" fill="#9b9ea0" stroke="#9b9ea0" stroke-width="3.5" stroke-linejoin="round"/>
<polygon points="497.0,173.0 517.0,160.0 704.0,198.0 688.0,211.0 560.0,186.0" fill="#a5a7a9" />
<polygon points="710.0,210.0 745.0,196.0 785.0,204.0 782.0,212.0 830.0,222.0 826.0,238.0 790.0,232.0" fill="#a5a7a9" />
<polygon points="345.0,281.0 993.0,413.0 993.0,422.0 345.0,291.0" fill="#d2d3d5" />
<polygon points="344.8,266.9 421.0,283.0 423.5,289.0 499.8,303.8 502.3,308.8 650.0,338.3 700.0,343.0 780.8,361.5 822.3,363.8 808.5,369.6 787.7,369.6 700.0,352.0 650.0,344.5 497.4,316.0 495.0,310.0 423.5,295.2 418.6,287.8 339.8,270.6" fill="#a5a7a9" />
<polygon points="850.0,373.1 1000.0,399.0 1012.0,408.0 1000.0,415.5 985.0,412.0 903.1,390.4 900.8,386.9 859.2,382.3" fill="#a5a7a9" />
<polygon points="1023.0,214.8 1254.5,264.1 1245.5,271.5 1012.0,222.2" fill="#eeeeee" />
<polygon points="1027.0,212.4 1247.5,261.7 1247.5,264.1 1023.0,214.8" fill="#8c8f91" />
<polygon points="1247.5,261.7 1254.5,264.1 1247.5,264.1" fill="#b0b2b4" />
<polygon points="999.0,225.5 1235.6,275.8 1226.6,283.2 988.0,232.9" fill="#eeeeee" />
<polygon points="1003.0,223.1 1228.6,273.4 1228.6,275.8 999.0,225.5" fill="#8c8f91" />
<polygon points="1228.6,273.4 1235.6,275.8 1228.6,275.8" fill="#b0b2b4" />
<polygon points="978.0,236.3 1217.2,287.1 1208.2,294.5 967.0,243.7" fill="#eeeeee" />
<polygon points="982.0,233.9 1210.2,284.7 1210.2,287.1 978.0,236.3" fill="#8c8f91" />
<polygon points="1210.2,284.7 1217.2,287.1 1210.2,287.1" fill="#b0b2b4" />
<polygon points="959.5,247.1 1199.5,298.1 1190.5,305.5 948.5,254.5" fill="#eeeeee" />
<polygon points="963.5,244.7 1192.5,295.7 1192.5,298.1 959.5,247.1" fill="#8c8f91" />
<polygon points="1192.5,295.7 1199.5,298.1 1192.5,298.1" fill="#b0b2b4" />
<polygon points="941.0,257.9 1181.8,309.1 1172.8,316.5 930.0,265.3" fill="#eeeeee" />
<polygon points="945.0,255.5 1174.8,306.7 1174.8,309.1 941.0,257.9" fill="#8c8f91" />
<polygon points="1174.8,306.7 1181.8,309.1 1174.8,309.1" fill="#b0b2b4" />
<polygon points="526.0,190.8 1164.1,319.6 1155.1,325.6 515.0,196.8" fill="#eeeeee" />
<polygon points="530.0,188.8 1157.1,317.6 1157.1,319.6 526.0,190.8" fill="#8c8f91" />
<polygon points="1157.1,317.6 1164.1,319.6 1157.1,319.6" fill="#b0b2b4" />
<polygon points="556.0,207.9 1149.5,328.7 1140.5,334.2 545.0,213.4" fill="#eeeeee" />
<polygon points="560.0,205.9 1142.5,326.7 1142.5,328.7 556.0,207.9" fill="#8c8f91" />
<polygon points="1142.5,326.7 1149.5,328.7 1142.5,328.7" fill="#b0b2b4" />
<polygon points="531.0,212.7 1136.7,336.6 1127.7,342.1 520.0,218.2" fill="#eeeeee" />
<polygon points="535.0,210.7 1129.7,334.6 1129.7,336.6 531.0,212.7" fill="#8c8f91" />
<polygon points="1129.7,334.6 1136.7,336.6 1129.7,336.6" fill="#b0b2b4" />
<polygon points="511.0,219.3 1123.8,344.6 1114.8,350.1 500.0,224.8" fill="#eeeeee" />
<polygon points="515.0,217.3 1116.8,342.6 1116.8,344.6 511.0,219.3" fill="#8c8f91" />
<polygon points="1116.8,342.6 1123.8,344.6 1116.8,344.6" fill="#b0b2b4" />
<polygon points="476.0,221.5 1112.2,351.7 1103.2,357.9 465.0,227.7" fill="#eeeeee" />
<polygon points="480.0,219.5 1105.2,349.7 1105.2,351.7 476.0,221.5" fill="#8c8f91" />
<polygon points="1105.2,349.7 1112.2,351.7 1105.2,351.7" fill="#b0b2b4" />
<polygon points="421.0,226.3 1097.0,361.2 1088.0,367.8 410.0,232.9" fill="#eeeeee" />
<polygon points="425.0,224.3 1090.0,359.2 1090.0,361.2 421.0,226.3" fill="#8c8f91" />
<polygon points="1090.0,359.2 1097.0,361.2 1090.0,361.2" fill="#b0b2b4" />
<polygon points="404.0,238.1 1076.8,373.7 1067.8,380.3 393.0,244.7" fill="#eeeeee" />
<polygon points="408.0,236.1 1069.8,371.7 1069.8,373.7 404.0,238.1" fill="#8c8f91" />
<polygon points="1069.8,371.7 1076.8,373.7 1069.8,373.7" fill="#b0b2b4" />
<polygon points="385.0,248.1 1057.9,385.4 1048.9,392.0 374.0,254.7" fill="#eeeeee" />
<polygon points="389.0,246.1 1050.9,383.4 1050.9,385.4 385.0,248.1" fill="#8c8f91" />
<polygon points="1050.9,383.4 1057.9,385.4 1050.9,385.4" fill="#b0b2b4" />
<polygon points="416.0,272.8 1037.8,397.9 1028.8,403.9 405.0,278.8" fill="#eeeeee" />
<polygon points="420.0,270.8 1030.8,395.9 1030.8,397.9 416.0,272.8" fill="#8c8f91" />
<polygon points="1030.8,395.9 1037.8,397.9 1030.8,397.9" fill="#b0b2b4" />
</g>
<g id="buildings">
<polygon points="417.0,100.0 482.0,91.0 486.0,90.5 486.0,126.0 470.0,137.0 417.0,128.0" fill="#b4b6b8" />
<polygon points="417.0,100.0 440.0,108.0 482.0,112.0 482.0,97.0" fill="#d9d9dc" />
<polygon points="417.0,112.0 440.0,117.0 482.0,121.0 482.0,135.0 417.0,140.0" fill="#9fa2a4" />
<polygon points="290.7,173.5 417.0,99.0 417.0,157.0 291.7,231.2" fill="#dddbdd" />
<polygon points="275.7,150.6 390.0,83.0 417.0,99.0 290.7,173.5" fill="#9b9ea0" />
<polygon points="275.7,150.6 390.0,83.0 392.5,84.5 278.0,153.6" fill="#d2d3d5" />
<polygon points="290.7,173.5 417.0,99.0 417.0,102.0 291.0,176.5" fill="#c4c5c7" />
<polygon points="390.0,83.0 398.0,80.5 417.0,99.0 408.0,103.0" fill="#85888a" />
<polygon points="390.0,83.0 398.0,80.5 402.0,84.0 394.0,87.0" fill="#b9bbbd" />
<path d="M304.2,222.9 L304.2,184.6 Q304.2,174.7 308.7,174.1 Q313.2,174.8 313.2,179.3 L313.2,217.6 Z" fill="#cfd0d2" stroke="#f6f6f6" stroke-width="1.2"/><path d="M308.7,220.2 L308.7,175.2" stroke="#f6f6f6" stroke-width="0.9" fill="none"/>
<path d="M316.9,215.3 L316.9,179.0 Q316.9,169.2 321.4,168.5 Q325.9,169.2 325.9,173.7 L325.9,210.0 Z" fill="#cfd0d2" stroke="#f6f6f6" stroke-width="1.2"/><path d="M321.4,212.7 L321.4,169.6" stroke="#f6f6f6" stroke-width="0.9" fill="none"/>
<path d="M337.8,188.5 L337.8,166.1 Q337.8,156.2 342.3,155.6 Q346.8,156.3 346.8,160.8 L346.8,183.1 Z" fill="#cfd0d2" stroke="#f6f6f6" stroke-width="1.2"/><path d="M342.3,185.8 L342.3,156.7" stroke="#f6f6f6" stroke-width="0.9" fill="none"/>
<path d="M350.0,181.1 L350.0,159.7 Q350.0,149.9 354.5,149.2 Q359.0,149.9 359.0,154.4 L359.0,175.8 Z" fill="#cfd0d2" stroke="#f6f6f6" stroke-width="1.2"/><path d="M354.5,178.4 L354.5,150.3" stroke="#f6f6f6" stroke-width="0.9" fill="none"/>
<path d="M362.3,173.5 L362.3,152.2 Q362.3,142.3 366.8,141.6 Q371.3,142.4 371.3,146.9 L371.3,168.2 Z" fill="#cfd0d2" stroke="#f6f6f6" stroke-width="1.2"/><path d="M366.8,170.9 L366.8,142.8" stroke="#f6f6f6" stroke-width="0.9" fill="none"/>
<path d="M383.2,170.5 L383.2,140.2 Q383.2,130.4 387.7,129.7 Q392.2,130.4 392.2,134.9 L392.2,165.2 Z" fill="#cfd0d2" stroke="#f6f6f6" stroke-width="1.2"/><path d="M387.7,167.9 L387.7,130.8" stroke="#f6f6f6" stroke-width="0.9" fill="none"/>
<path d="M395.5,163.6 L395.5,132.3 Q395.5,122.4 400.0,121.7 Q404.5,122.5 404.5,127.0 L404.5,158.3 Z" fill="#cfd0d2" stroke="#f6f6f6" stroke-width="1.2"/><path d="M400.0,160.9 L400.0,122.9" stroke="#f6f6f6" stroke-width="0.9" fill="none"/>
<path d="M407.5,155.6 L407.5,125.3 Q407.5,115.4 412.0,114.8 Q416.5,115.5 416.5,120.0 L416.5,150.3 Z" fill="#cfd0d2" stroke="#f6f6f6" stroke-width="1.2"/><path d="M412.0,153.0 L412.0,115.9" stroke="#f6f6f6" stroke-width="0.9" fill="none"/>
<polygon points="317.0,201.0 325.5,196.0 325.5,208.0 317.0,213.0" fill="#9a9d9f" />
<path d="M334,192 Q348,184 356,181 L392,162 L397,167 L372,178 L372,182 L350,193 Q340,199 345,209 L336,214 Q330,203 334,192 Z" fill="#b9bbbd" stroke="#d9d9db" stroke-width="1"/>
<path d="M335.0,195.0 L347.0,190.0" stroke="#e4e4e6" stroke-width="1"/>
<path d="M335.6,198.4 L347.2,193.6" stroke="#e4e4e6" stroke-width="1"/>
<path d="M336.2,201.8 L347.4,197.2" stroke="#e4e4e6" stroke-width="1"/>
<path d="M336.8,205.2 L347.6,200.8" stroke="#e4e4e6" stroke-width="1"/>
<path d="M337.4,208.6 L347.8,204.4" stroke="#e4e4e6" stroke-width="1"/>
<path d="M338.0,212.0 L348.0,208.0" stroke="#e4e4e6" stroke-width="1"/>
<path d="M357,184 V201 M372,181 V196 M385,171 V186" stroke="#e0e0e2" stroke-width="1.3"/>
<polygon points="264.8,168.6 290.7,173.5 291.7,231.2 264.8,227.3" fill="#808486" />
<polygon points="275.7,150.6 284.7,151.6 290.7,173.5 264.8,168.6" fill="#696c6f" />
<polygon points="235.0,134.0 260.8,137.0 260.8,228.3 235.0,221.3" fill="#808486" />
<polygon points="257.3,136.6 260.8,137.0 260.8,228.3 257.3,227.3" fill="#9c9fa1" />
<polygon points="260.8,137.0 275.7,131.0 275.7,152.0 264.8,168.6 264.8,227.3 260.8,228.3" fill="#dddbdd" />
<polygon points="234.0,98.0 257.8,104.0 257.8,136.5 234.0,132.5" fill="#a9abad" />
<polygon points="257.8,104.0 276.7,96.5 276.7,130.5 257.8,136.5" fill="#cbccce" />
<polygon points="234.0,98.0 252.0,90.5 276.7,96.5 257.8,104.0" fill="#bcbec0" />
<polygon points="236.5,102.5 255.5,107.0 255.5,131.5 236.5,128.0" fill="#b4b6b8" />
<polygon points="260.0,107.0 274.8,101.5 274.8,126.5 260.0,131.5" fill="#d6d7d9" />
<ellipse cx="245.6" cy="118" rx="9.2" ry="11.2" fill="#bcbec0" stroke="#8e9193" stroke-width="0.8" stroke-dasharray="1.2 1.2" transform="rotate(8 245.6 118)"/>
<ellipse cx="267.5" cy="116" rx="7" ry="11" fill="#d4d5d7" stroke="#8e9193" stroke-width="0.8" stroke-dasharray="1.2 1.2" transform="rotate(-8 267.5 116)"/>
<path d="M245.6,119 L237,110 M245.6,119 L249,113" stroke="#5d6063" stroke-width="1.5" fill="none"/>
<path d="M267.5,117 L269.5,108 M267.5,117 L263,115" stroke="#5d6063" stroke-width="1.4" fill="none"/>
<polygon points="234.0,130.5 257.8,134.5 257.8,138.0 234.0,134.0" fill="#8e9193" />
<polygon points="257.8,134.5 276.7,128.5 276.7,132.0 257.8,138.0" fill="#b4b6b8" />
<path d="M236.3,98 Q243,80 252.5,69.5 L256.6,70 L255.5,104 Z" fill="#8f9294"/>
<path d="M256.6,70 L260.4,69 Q268.5,80 275.2,93.5 L255.5,104 Z" fill="#e2e1e3"/>
<path d="M252.5,69.5 L256.6,70 L255.5,104 L252,103 Q251,85 252.5,69.5 Z" fill="#a4a6a8"/>
<polygon points="252.0,63.0 256.3,64.5 256.3,71.0 252.0,69.5" fill="#c3c5c7" />
<polygon points="256.3,64.5 260.6,63.0 260.6,69.5 256.3,71.0" fill="#e4e4e6" />
<polygon points="252.0,63.0 256.3,61.8 260.6,63.0 256.3,64.5" fill="#d4d5d7" />
</g>
<g id="gallery">
<polygon points="509.0,106.0 807.0,165.6 807.0,204.6 509.0,145.0" fill="#c3c4c6" />
<polygon points="486.0,91.0 862.0,166.5 862.0,176.0 807.0,167.6 509.0,108.0 509.0,120.0 497.0,126.0 486.0,122.0" fill="#8b8e90" />
<polygon points="486.0,104.0 509.0,108.0 509.0,143.0 486.0,126.0" fill="#a9abad" />
<polygon points="471.0,128.0 507.5,107.5 507.5,145.0 471.0,162.0" fill="#dddbdd" />
<polygon points="497.0,120.0 507.5,114.0 507.5,143.0 497.0,149.0" fill="#b4b6b8" />
<polygon points="510.0,108.5 520.9,110.7 520.9,123.2 510.0,121.0" fill="#f1f1f1" />
<path d="M513.6,109.3 v12.5 M517.2,109.9 v12.5" stroke="#d5d6d8" stroke-width="0.7"/>
<polygon points="523.5,111.2 534.4,113.4 534.4,125.9 523.5,123.7" fill="#f1f1f1" />
<path d="M527.1,112.0 v12.5 M530.7,112.6 v12.5" stroke="#d5d6d8" stroke-width="0.7"/>
<polygon points="537.0,113.9 547.9,116.1 547.9,128.6 537.0,126.4" fill="#f1f1f1" />
<path d="M540.6,114.7 v12.5 M544.2,115.3 v12.5" stroke="#d5d6d8" stroke-width="0.7"/>
<polygon points="550.5,116.6 561.4,118.8 561.4,131.3 550.5,129.1" fill="#f1f1f1" />
<path d="M554.1,117.4 v12.5 M557.7,118.0 v12.5" stroke="#d5d6d8" stroke-width="0.7"/>
<polygon points="564.0,119.3 574.9,121.5 574.9,134.0 564.0,131.8" fill="#f1f1f1" />
<path d="M567.6,120.1 v12.5 M571.2,120.7 v12.5" stroke="#d5d6d8" stroke-width="0.7"/>
<polygon points="577.5,122.0 588.4,124.2 588.4,136.7 577.5,134.5" fill="#f1f1f1" />
<path d="M581.1,122.8 v12.5 M584.7,123.4 v12.5" stroke="#d5d6d8" stroke-width="0.7"/>
<polygon points="591.0,124.7 601.9,126.9 601.9,139.4 591.0,137.2" fill="#f1f1f1" />
<path d="M594.6,125.5 v12.5 M598.2,126.1 v12.5" stroke="#d5d6d8" stroke-width="0.7"/>
<polygon points="604.5,127.4 615.4,129.6 615.4,142.1 604.5,139.9" fill="#f1f1f1" />
<path d="M608.1,128.2 v12.5 M611.7,128.8 v12.5" stroke="#d5d6d8" stroke-width="0.7"/>
<polygon points="618.0,130.1 628.9,132.3 628.9,144.8 618.0,142.6" fill="#f1f1f1" />
<path d="M621.6,130.9 v12.5 M625.2,131.5 v12.5" stroke="#d5d6d8" stroke-width="0.7"/>
<polygon points="631.5,132.8 642.4,135.0 642.4,147.5 631.5,145.3" fill="#f1f1f1" />
<path d="M635.1,133.6 v12.5 M638.7,134.2 v12.5" stroke="#d5d6d8" stroke-width="0.7"/>
<polygon points="645.0,135.5 655.9,137.7 655.9,150.2 645.0,148.0" fill="#f1f1f1" />
<path d="M648.6,136.3 v12.5 M652.2,136.9 v12.5" stroke="#d5d6d8" stroke-width="0.7"/>
<polygon points="658.5,138.2 669.4,140.4 669.4,152.9 658.5,150.7" fill="#f1f1f1" />
<path d="M662.1,139.0 v12.5 M665.7,139.6 v12.5" stroke="#d5d6d8" stroke-width="0.7"/>
<polygon points="672.0,140.9 682.9,143.1 682.9,155.6 672.0,153.4" fill="#f1f1f1" />
<path d="M675.6,141.7 v12.5 M679.2,142.3 v12.5" stroke="#d5d6d8" stroke-width="0.7"/>
<polygon points="685.5,143.6 696.4,145.8 696.4,158.3 685.5,156.1" fill="#f1f1f1" />
<path d="M689.1,144.4 v12.5 M692.7,145.0 v12.5" stroke="#d5d6d8" stroke-width="0.7"/>
<polygon points="699.0,146.3 709.9,148.5 709.9,161.0 699.0,158.8" fill="#f1f1f1" />
<path d="M702.6,147.1 v12.5 M706.2,147.7 v12.5" stroke="#d5d6d8" stroke-width="0.7"/>
<polygon points="712.5,149.0 723.4,151.2 723.4,163.7 712.5,161.5" fill="#f1f1f1" />
<path d="M716.1,149.8 v12.5 M719.7,150.4 v12.5" stroke="#d5d6d8" stroke-width="0.7"/>
<polygon points="726.0,151.7 736.9,153.9 736.9,166.4 726.0,164.2" fill="#f1f1f1" />
<path d="M729.6,152.5 v12.5 M733.2,153.1 v12.5" stroke="#d5d6d8" stroke-width="0.7"/>
<polygon points="739.5,154.4 750.4,156.6 750.4,169.1 739.5,166.9" fill="#f1f1f1" />
<path d="M743.1,155.2 v12.5 M746.7,155.8 v12.5" stroke="#d5d6d8" stroke-width="0.7"/>
<polygon points="753.0,157.1 763.9,159.3 763.9,171.8 753.0,169.6" fill="#f1f1f1" />
<path d="M756.6,157.9 v12.5 M760.2,158.5 v12.5" stroke="#d5d6d8" stroke-width="0.7"/>
<polygon points="766.5,159.8 777.4,162.0 777.4,174.5 766.5,172.3" fill="#f1f1f1" />
<path d="M770.1,160.6 v12.5 M773.7,161.2 v12.5" stroke="#d5d6d8" stroke-width="0.7"/>
<polygon points="780.0,162.5 790.9,164.7 790.9,177.2 780.0,175.0" fill="#f1f1f1" />
<path d="M783.6,163.3 v12.5 M787.2,163.9 v12.5" stroke="#d5d6d8" stroke-width="0.7"/>
<polygon points="793.5,165.2 804.4,167.4 804.4,179.9 793.5,177.7" fill="#f1f1f1" />
<path d="M797.1,166.0 v12.5 M800.7,166.6 v12.5" stroke="#d5d6d8" stroke-width="0.7"/>
<path d="M508.7,120.2 V145.2" stroke="#8f9294" stroke-width="1.9"/>
<path d="M522.2,122.9 V147.9" stroke="#8f9294" stroke-width="1.9"/>
<path d="M535.7,125.6 V150.6" stroke="#8f9294" stroke-width="1.9"/>
<path d="M549.2,128.3 V153.3" stroke="#8f9294" stroke-width="1.9"/>
<path d="M562.7,131.0 V156.0" stroke="#8f9294" stroke-width="1.9"/>
<path d="M576.2,133.7 V158.7" stroke="#8f9294" stroke-width="1.9"/>
<path d="M589.7,136.4 V161.4" stroke="#8f9294" stroke-width="1.9"/>
<path d="M603.2,139.1 V164.1" stroke="#8f9294" stroke-width="1.9"/>
<path d="M616.7,141.8 V166.8" stroke="#8f9294" stroke-width="1.9"/>
<path d="M630.2,144.5 V169.5" stroke="#8f9294" stroke-width="1.9"/>
<path d="M643.7,147.2 V172.2" stroke="#8f9294" stroke-width="1.9"/>
<path d="M657.2,149.9 V174.9" stroke="#8f9294" stroke-width="1.9"/>
<path d="M670.7,152.6 V177.6" stroke="#8f9294" stroke-width="1.9"/>
<path d="M684.2,155.3 V180.3" stroke="#8f9294" stroke-width="1.9"/>
<path d="M697.7,158.0 V183.0" stroke="#8f9294" stroke-width="1.9"/>
<path d="M711.2,160.7 V185.7" stroke="#8f9294" stroke-width="1.9"/>
<path d="M724.7,163.4 V188.4" stroke="#8f9294" stroke-width="1.9"/>
<path d="M738.2,166.1 V191.1" stroke="#8f9294" stroke-width="1.9"/>
<path d="M751.7,168.8 V193.8" stroke="#8f9294" stroke-width="1.9"/>
<path d="M765.2,171.5 V196.5" stroke="#8f9294" stroke-width="1.9"/>
<path d="M778.7,174.2 V199.2" stroke="#8f9294" stroke-width="1.9"/>
<path d="M792.2,176.9 V201.9" stroke="#8f9294" stroke-width="1.9"/>
<path d="M805.7,179.6 V204.6" stroke="#8f9294" stroke-width="1.9"/>
<polyline points="509.0,122.0 807.0,181.6" fill="none" stroke="#999c9e" stroke-width="2.2" />
<polygon points="807.0,155.5 862.0,166.5 862.0,176.0 827.5,197.5 827.5,240.0 807.0,236.0" fill="#808486" />
<polygon points="827.5,197.5 911.0,147.5 911.0,190.0 827.5,240.0" fill="#dddbdd" />
<polygon points="827.5,197.5 911.0,147.5 911.0,149.5 827.5,199.7" fill="#f0f0f1" />
<polygon points="838.0,211.7 844.0,208.1 844.0,230.1 838.0,233.7" fill="#a9abad" />
<polygon points="849.0,205.1 856.0,200.9 856.0,222.9 849.0,227.1" fill="#a9abad" />
<polygon points="869.0,196.1 877.0,191.3 877.0,210.3 869.0,215.1" fill="#a9abad" />
<polygon points="883.0,189.8 889.0,186.2 889.0,203.2 883.0,206.8" fill="#a9abad" />
<polygon points="892.0,184.4 899.0,180.2 899.0,197.2 892.0,201.4" fill="#a9abad" />
<polygon points="911.0,147.5 953.0,155.0 953.0,193.0 911.0,190.0" fill="#808486" />
<polygon points="911.0,147.5 914.0,148.0 914.0,190.2 911.0,190.0" fill="#a0a3a5" />
</g>
<g id="outline">
<polygon points="152.0,248.0 993.0,419.1 993.0,421.9 152.0,250.8" fill="#707376" />
<polygon points="152.0,250.8 300.0,280.9 500.0,321.6 700.0,362.3 800.0,382.7 900.0,403.0 993.0,421.9 993.0,423.1 900.0,405.2 800.0,385.9 700.0,366.6 500.0,326.4 300.0,286.1 152.0,256.3" fill="#05050f" />
<polygon points="23.0,228.5 149.2,245.8 149.2,254.2 23.0,230.5" fill="#6c6f72" />
<polygon points="149.2,245.8 152.0,248.5 152.0,254.2 149.2,254.2" fill="#808486" />
<path d="M22,231.5 L149.2,254 L153.5,254.6 L153.5,257.6 Q152.5,260.2 149,259.6 L22,234 Q18,232 22,231.5 Z" fill="#05050f" stroke="#05050f" stroke-width="1" stroke-linejoin="round"/>
<polygon points="1259.6,254.8 1262.4,259.2 993.4,423.2 992.6,422.0" fill="#05050f" />
<polyline points="22.5,229.5 236.5,93.0 241.0,79.0 247.0,68.0 248.5,62.0 254.0,59.0 261.0,60.5 262.5,67.0 268.0,77.0 285.0,66.5 345.0,75.0 387.0,81.0 391.0,78.0 400.0,80.5 482.5,97.0 482.5,92.0 486.0,90.5 862.0,166.0 911.0,144.0 955.0,152.0 956.0,194.0 1261.0,257.0" fill="none" stroke="#05050f" stroke-width="5" stroke-linejoin="round" stroke-linecap="round"/>
</g>
<g id="l0details">
<polygon points="937.8,280.2 952.5,282.6 951.5,284.8 936.8,282.9" fill="#9a9d9f" /><path d="M938.8,281.8 L947.0,283.4" stroke="#4f8f38" stroke-width="1.5"/><path d="M947.5,283.4 l3,-2" stroke="#f2f2f2" stroke-width="1.2"/>
<polygon points="912.8,295.2 927.5,297.6 926.5,299.8 911.8,297.9" fill="#9a9d9f" /><path d="M913.8,296.8 L922.0,298.4" stroke="#4f8f38" stroke-width="1.5"/><path d="M922.5,298.4 l3,-2" stroke="#f2f2f2" stroke-width="1.2"/>
<polygon points="884.0,312.9 898.5,315.3 897.5,316.8 883.0,315.0" fill="#9a9d9f" /><path d="M885.0,314.6 L893.0,316.2" stroke="#4f8f38" stroke-width="1.5"/><path d="M893.5,315.4 l3,-2" stroke="#f2f2f2" stroke-width="1.2"/>
<polygon points="850.0,322.2 870.0,325.7 869.0,327.8 849.0,324.9" fill="#9a9d9f" /><path d="M851.0,323.8 L864.5,326.5" stroke="#4f8f38" stroke-width="1.5"/><path d="M865.0,326.4 l3,-2" stroke="#f2f2f2" stroke-width="1.2"/>
<polygon points="830.0,334.2 851.5,338.0 850.5,340.3 829.0,337.1" fill="#9a9d9f" /><path d="M831.0,335.8 L846.0,338.8" stroke="#4f8f38" stroke-width="1.5"/><path d="M846.5,338.9 l3,-2" stroke="#f2f2f2" stroke-width="1.2"/>
<polygon points="810.0,347.9 831.5,351.8 830.5,353.3 809.0,350.1" fill="#9a9d9f" /><path d="M811.0,349.6 L826.0,352.6" stroke="#4f8f38" stroke-width="1.5"/><path d="M826.5,351.9 l3,-2" stroke="#f2f2f2" stroke-width="1.2"/>
<polygon points="826.5,368.7 847.5,372.4 846.5,374.6 825.5,371.4" fill="#9a9d9f" /><path d="M827.5,370.3 L842.0,373.2" stroke="#4f8f38" stroke-width="1.5"/><path d="M842.5,373.1 l3,-2" stroke="#f2f2f2" stroke-width="1.2"/>
<polygon points="956.5,327.2 971.5,329.7 970.5,331.8 955.5,329.9" fill="#9a9d9f" /><path d="M957.5,328.8 L966.0,330.5" stroke="#4f8f38" stroke-width="1.5"/><path d="M966.5,330.4 l3,-2" stroke="#f2f2f2" stroke-width="1.2"/>
<polygon points="985.0,310.2 998.5,312.4 997.5,314.8 984.0,313.2" fill="#9a9d9f" /><path d="M986.0,311.8 L993.0,313.2" stroke="#4f8f38" stroke-width="1.5"/><path d="M993.5,313.4 l3,-2" stroke="#f2f2f2" stroke-width="1.2"/>
<polygon points="1010.0,294.7 1025.0,297.2 1024.0,298.8 1009.0,296.9" fill="#9a9d9f" /><path d="M1011.0,296.3 L1019.5,298.0" stroke="#4f8f38" stroke-width="1.5"/><path d="M1020.0,297.4 l3,-2" stroke="#f2f2f2" stroke-width="1.2"/>
<polygon points="1014.0,337.9 1035.0,341.6 1034.0,344.6 1013.0,341.4" fill="#9a9d9f" /><path d="M1015.0,339.6 L1029.5,342.4" stroke="#4f8f38" stroke-width="1.5"/><path d="M1030.0,343.1 l3,-2" stroke="#f2f2f2" stroke-width="1.2"/>
<polygon points="1041.5,321.7 1062.5,325.4 1061.5,327.8 1040.5,324.7" fill="#9a9d9f" /><path d="M1042.5,323.3 L1057.0,326.2" stroke="#4f8f38" stroke-width="1.5"/><path d="M1057.5,326.4 l3,-2" stroke="#f2f2f2" stroke-width="1.2"/>
<polygon points="1066.5,306.7 1087.5,310.4 1086.5,312.8 1065.5,309.7" fill="#9a9d9f" /><path d="M1067.5,308.3 L1082.0,311.2" stroke="#4f8f38" stroke-width="1.5"/><path d="M1082.5,311.4 l3,-2" stroke="#f2f2f2" stroke-width="1.2"/>
<polygon points="1136.5,265.2 1157.5,268.9 1156.5,270.8 1135.5,267.7" fill="#9a9d9f" /><path d="M1137.5,266.8 L1152.0,269.7" stroke="#4f8f38" stroke-width="1.5"/><path d="M1152.5,269.4 l3,-2" stroke="#f2f2f2" stroke-width="1.2"/>
<path d="M950.0,284.9 L957.0,280.3 Q962.0,278.1 968.0,280.7 Q971.0,283.2 967.0,286.2 L959.0,285.4 L956.0,287.5 Z" fill="#d9d6c9" stroke="#a8a69c" stroke-width="0.6"/><path d="M960.0,288.0 l7.0,1" stroke="#f4f4f4" stroke-width="1.4"/>
<path d="M925.0,300.3 L932.0,295.4 Q937.0,293.1 943.0,295.8 Q946.0,298.5 942.0,301.6 L934.0,300.8 L931.0,303.0 Z" fill="#d9d6c9" stroke="#a8a69c" stroke-width="0.6"/><path d="M935.0,303.5 l7.0,1" stroke="#f4f4f4" stroke-width="1.4"/>
<path d="M897.5,317.3 L904.0,312.4 Q908.6,310.1 914.1,312.8 Q917.0,315.5 913.2,318.6 L905.8,317.8 L903.0,320.0 Z" fill="#d9d6c9" stroke="#a8a69c" stroke-width="0.6"/><path d="M906.8,320.5 l6.5,1" stroke="#f4f4f4" stroke-width="1.4"/>
<path d="M969.0,332.0 L975.5,326.5 Q980.1,324.0 985.6,327.0 Q988.5,330.0 984.7,333.5 L977.3,332.5 L974.5,335.0 Z" fill="#d9d6c9" stroke="#a8a69c" stroke-width="0.6"/><path d="M978.2,335.5 l6.5,1" stroke="#f4f4f4" stroke-width="1.4"/>
<path d="M997.5,314.9 L1004.0,310.3 Q1008.6,308.1 1014.1,310.7 Q1017.0,313.2 1013.2,316.2 L1005.8,315.4 L1003.0,317.5 Z" fill="#d9d6c9" stroke="#a8a69c" stroke-width="0.6"/><path d="M1006.8,318.0 l6.5,1" stroke="#f4f4f4" stroke-width="1.4"/>
<path d="M1022.5,299.9 L1029.0,295.3 Q1033.6,293.1 1039.2,295.7 Q1042.0,298.2 1038.2,301.2 L1030.8,300.4 L1028.0,302.5 Z" fill="#d9d6c9" stroke="#a8a69c" stroke-width="0.6"/><path d="M1031.8,303.0 l6.5,1" stroke="#f4f4f4" stroke-width="1.4"/>
<path d="M676.25,293.75 V321.25" stroke="#0a0a20" stroke-width="1.3"/>
<polygon points="673.2,320.1 677.2,320.9 677.2,322.2 672.2,321.9" fill="#e6e6e6" />
<path d="M696.25,282.5 V308.75" stroke="#0a0a20" stroke-width="1.3"/>
<polygon points="693.2,307.6 697.2,308.4 697.2,309.8 692.2,309.4" fill="#e6e6e6" />
<path d="M716.25,270 V297" stroke="#0a0a20" stroke-width="1.3"/>
<polygon points="713.2,295.8 717.2,296.6 717.2,298.0 712.2,297.6" fill="#e6e6e6" />
<path d="M737.5,257.5 V283.75" stroke="#0a0a20" stroke-width="1.3"/>
<polygon points="734.5,282.6 738.5,283.4 738.5,284.8 733.5,284.4" fill="#e6e6e6" />
<path d="M764.5,240 V267.5" stroke="#0a0a20" stroke-width="1.3"/>
<polygon points="761.5,266.3 765.5,267.1 765.5,268.5 760.5,268.1" fill="#e6e6e6" />
<path d="M790.5,225 V252" stroke="#0a0a20" stroke-width="1.3"/>
<polygon points="787.5,250.8 791.5,251.6 791.5,253.0 786.5,252.6" fill="#e6e6e6" />
<path d="M973.75,306 V327.5" stroke="#0a0a20" stroke-width="1.3"/>
<polygon points="970.8,326.3 974.8,327.1 974.8,328.5 969.8,328.1" fill="#e6e6e6" />
<path d="M1002,290 V311" stroke="#0a0a20" stroke-width="1.3"/>
<polygon points="999.0,309.8 1003.0,310.6 1003.0,312.0 998.0,311.6" fill="#e6e6e6" />
<path d="M1027,279.5 V295" stroke="#0a0a20" stroke-width="1.3"/>
<polygon points="1024.0,293.8 1028.0,294.6 1028.0,296.0 1023.0,295.6" fill="#e6e6e6" />
<polygon points="677.8,320.6 688.2,322.9 686.2,324.6 675.8,322.4" fill="#9a9d9f" />
<path d="M678.2,322.1 l8.5,1.8" stroke="#4f8f38" stroke-width="1.5"/>
<polygon points="697.8,308.1 708.2,310.4 706.2,312.1 695.8,309.9" fill="#9a9d9f" />
<path d="M698.2,309.6 l8.5,1.8" stroke="#4f8f38" stroke-width="1.5"/>
<polygon points="717.8,296.4 728.2,298.6 726.2,300.4 715.8,298.2" fill="#9a9d9f" />
<path d="M718.2,297.9 l8.5,1.8" stroke="#4f8f38" stroke-width="1.5"/>
<polygon points="739.0,283.1 749.5,285.4 747.5,287.1 737.0,284.9" fill="#9a9d9f" />
<path d="M739.5,284.6 l8.5,1.8" stroke="#4f8f38" stroke-width="1.5"/>
<polygon points="766.0,266.9 776.5,269.1 774.5,270.9 764.0,268.7" fill="#9a9d9f" />
<path d="M766.5,268.4 l8.5,1.8" stroke="#4f8f38" stroke-width="1.5"/>
<polygon points="792.0,251.4 802.5,253.6 800.5,255.4 790.0,253.2" fill="#9a9d9f" />
<path d="M792.5,252.9 l8.5,1.8" stroke="#4f8f38" stroke-width="1.5"/>
<path d="M557.0,176.2 l5.4,-3.4" stroke="#f2f2f2" stroke-width="1.25"/>
<path d="M564.0,177.5 l5.4,-3.4" stroke="#f2f2f2" stroke-width="1.25"/>
<path d="M571.0,178.8 l5.4,-3.4" stroke="#f2f2f2" stroke-width="1.25"/>
<path d="M578.0,180.2 l5.4,-3.4" stroke="#f2f2f2" stroke-width="1.25"/>
<path d="M585.0,181.5 l5.4,-3.4" stroke="#f2f2f2" stroke-width="1.25"/>
<path d="M592.0,182.8 l5.4,-3.4" stroke="#f2f2f2" stroke-width="1.25"/>
<path d="M599.0,184.1 l5.4,-3.4" stroke="#f2f2f2" stroke-width="1.25"/>
<path d="M606.0,185.4 l5.4,-3.4" stroke="#f2f2f2" stroke-width="1.25"/>
<path d="M613.0,186.8 l5.4,-3.4" stroke="#f2f2f2" stroke-width="1.25"/>
<path d="M620.0,188.1 l5.4,-3.4" stroke="#f2f2f2" stroke-width="1.25"/>
<path d="M627.0,189.4 l5.4,-3.4" stroke="#f2f2f2" stroke-width="1.25"/>
<path d="M634.0,190.7 l5.4,-3.4" stroke="#f2f2f2" stroke-width="1.25"/>
<path d="M641.0,192.0 l5.4,-3.4" stroke="#f2f2f2" stroke-width="1.25"/>
<path d="M648.0,193.4 l5.4,-3.4" stroke="#f2f2f2" stroke-width="1.25"/>
<path d="M655.0,194.7 l5.4,-3.4" stroke="#f2f2f2" stroke-width="1.25"/>
<polygon points="357.5,235.0 366.0,231.0 384.0,235.0 375.0,240.0" fill="#4f8f38" />
<path d="M366,237.5 l9,-5 l4,1 l-9,5 z M371,239 l9,-5 l4,1 l-9,5 z" fill="#c9c9c9" stroke="#8c8f91" stroke-width="0.5"/>
<polygon points="388.0,226.0 395.0,222.0 401.0,223.5 394.0,227.5" fill="#4f8f38" />
<path d="M398.5,217.5 V226" stroke="#3a3c3e" stroke-width="1.6"/><path d="M399,218 q4,-2.5 6,0" stroke="#e8e8e8" stroke-width="1" fill="none"/>
<polygon points="445.0,184.0 457.0,177.5 467.0,180.0 455.0,187.0" fill="#4f8f38" />
<polygon points="417.5,200.0 432.5,192.5 440.0,194.5 425.0,202.5" fill="#4f8f38" />
<path d="M459.0,180.5 l7,-4.5 q2,-1.5 5,-1 l5,1.2 q2,1 0.5,3 l-3,2 l-5,-1 l-5,3.5 z" fill="#d9d6c9" stroke="#a8a69c" stroke-width="0.6"/><path d="M464.2,181.6 l7,-4.5 q2,-1.5 5,-1 l5,1.2 q2,1 0.5,3 l-3,2 l-5,-1 l-5,3.5 z" fill="#d9d6c9" stroke="#a8a69c" stroke-width="0.6"/><path d="M469.4,182.7 l7,-4.5 q2,-1.5 5,-1 l5,1.2 q2,1 0.5,3 l-3,2 l-5,-1 l-5,3.5 z" fill="#d9d6c9" stroke="#a8a69c" stroke-width="0.6"/><path d="M462.0,184.0 l16,3.5" stroke="#f4f4f4" stroke-width="1.6"/>
<path d="M434.0,196.5 l7,-4.5 q2,-1.5 5,-1 l5,1.2 q2,1 0.5,3 l-3,2 l-5,-1 l-5,3.5 z" fill="#d9d6c9" stroke="#a8a69c" stroke-width="0.6"/><path d="M439.2,197.6 l7,-4.5 q2,-1.5 5,-1 l5,1.2 q2,1 0.5,3 l-3,2 l-5,-1 l-5,3.5 z" fill="#d9d6c9" stroke="#a8a69c" stroke-width="0.6"/><path d="M444.4,198.7 l7,-4.5 q2,-1.5 5,-1 l5,1.2 q2,1 0.5,3 l-3,2 l-5,-1 l-5,3.5 z" fill="#d9d6c9" stroke="#a8a69c" stroke-width="0.6"/><path d="M437.0,200.0 l16,3.5" stroke="#f4f4f4" stroke-width="1.6"/>
<path d="M438.8,189.5 V197.5" stroke="#0a0a20" stroke-width="1.6"/>
<polygon points="265.2,258.0 272.2,254.0 289.5,257.0 284.8,261.5" fill="#8e9193" />
<polygon points="277.0,258.2 280.0,256.5 287.0,257.8 284.0,260.2" fill="#4f8f38" />
<path d="M266.5,257.8 l8,2 M268.5,256.6 l8,2 M270.5,255.4 l8,2" stroke="#f0f0f0" stroke-width="0.8"/>
<polygon points="346.5,275.0 360.5,270.5 386.5,286.0 379.5,289.5" fill="#a5a7a9" /><path d="M352.5,277.5 q0,-3.5 4,-4.5 l7,0 l17,13.5 l-4.5,2.5 l-14,-11 l-5.5,1 z" fill="#d9d6c9" stroke="#a8a69c" stroke-width="0.6"/><polygon points="374.5,287.5 379.5,285.0 385.5,286.3 380.5,289.0" fill="#4f8f38" /><path d="M354.5,279.5 l5,2.5 l-3,2 z" fill="#f4f4f4"/>
<polygon points="598.5,326.5 612.5,322.0 638.5,337.5 631.5,341.0" fill="#a5a7a9" /><path d="M604.5,329.0 q0,-3.5 4,-4.5 l7,0 l17,13.5 l-4.5,2.5 l-14,-11 l-5.5,1 z" fill="#d9d6c9" stroke="#a8a69c" stroke-width="0.6"/><polygon points="626.5,339.0 631.5,336.5 637.5,337.8 632.5,340.5" fill="#4f8f38" /><path d="M606.5,331.0 l5,2.5 l-3,2 z" fill="#f4f4f4"/>
<path d="M840.0,243.5 l17.5,-21 q2.5,-2.5 5.5,-1.5 q1,2.5 -1,5 l-17.5,20.5 z" fill="#d9d6c9" stroke="#8f8d84" stroke-width="0.7"/>
<path d="M847.2,244.8 l17.5,-21 q2.5,-2.5 5.5,-1.5 q1,2.5 -1,5 l-17.5,20.5 z" fill="#d9d6c9" stroke="#8f8d84" stroke-width="0.7"/>
<path d="M854.4,246.1 l17.5,-21 q2.5,-2.5 5.5,-1.5 q1,2.5 -1,5 l-17.5,20.5 z" fill="#d9d6c9" stroke="#8f8d84" stroke-width="0.7"/>
<path d="M861.6,247.4 l17.5,-21 q2.5,-2.5 5.5,-1.5 q1,2.5 -1,5 l-17.5,20.5 z" fill="#d9d6c9" stroke="#8f8d84" stroke-width="0.7"/>
<polygon points="916.0,194.0 937.5,197.5 926.0,204.0 912.5,202.5" fill="#4f8f38" />
<path d="M895,200 q0,-4 5,-5 l6,0.5 l9,5 l-5,3 l-7,-3.5 l-5,2.5 z M903,201.5 q0,-4 5,-5 l6,0.5 l9,5 l-5,3 l-7,-3.5 l-5,2.5 z" fill="#d9d6c9" stroke="#a8a69c" stroke-width="0.6"/>
<path d="M897,203.5 l6,2.5 l5,-2.5 M907,205 l6,2.5 l5,-2.5" fill="none" stroke="#f6f6f6" stroke-width="1.6"/>
<path d="M913.8,176 V196.5" stroke="#0a0a20" stroke-width="1.5"/>
</g>
<g id="icons">
<defs><linearGradient id="ga1" gradientUnits="userSpaceOnUse" x1="0" y1="44" x2="0" y2="233"><stop offset="0" stop-color="#0a0a35"/><stop offset="0.19" stop-color="#0a0a35"/><stop offset="0.47" stop-color="#d7e87a"/><stop offset="1" stop-color="#d7e87a"/></linearGradient></defs><rect x="375.40" y="44.0" width="7.6" height="180.0" fill="url(#ga1)" stroke="#0a0a35" stroke-width="0.9"/><path d="M366.2,214.5 L368.8,211.9 L375.4,221.2 L375.4,208.5 L383.0,208.5 L383.0,221.2 L389.6,211.9 L392.2,214.5 L392.2,218.5 L379.2,233.0 L366.2,218.5 Z" fill="#d7e87a"/><path d="M375.4,221.2 L368.8,211.9 L366.2,214.5 L366.2,218.5 L379.2,233.0 L392.2,218.5 L392.2,214.5 L389.6,211.9 L383.0,221.2" fill="none" stroke="#0a0a35" stroke-width="1" stroke-linejoin="round"/>
<path d="M378.9,232 V240" stroke="#0a0a35" stroke-width="1.2"/>
<defs><linearGradient id="ga2" gradientUnits="userSpaceOnUse" x1="0" y1="64" x2="0" y2="180.5"><stop offset="0" stop-color="#0a0a35"/><stop offset="0.20" stop-color="#0a0a35"/><stop offset="0.58" stop-color="#d7e87a"/><stop offset="1" stop-color="#d7e87a"/></linearGradient></defs><rect x="462.40" y="64.0" width="7.6" height="107.5" fill="url(#ga2)" stroke="#0a0a35" stroke-width="0.9"/><path d="M453.2,162.0 L455.8,159.4 L462.4,168.7 L462.4,156.0 L470.0,156.0 L470.0,168.7 L476.6,159.4 L479.2,162.0 L479.2,166.0 L466.2,180.5 L453.2,166.0 Z" fill="#d7e87a"/><path d="M462.4,168.7 L455.8,159.4 L453.2,162.0 L453.2,166.0 L466.2,180.5 L479.2,166.0 L479.2,162.0 L476.6,159.4 L470.0,168.7" fill="none" stroke="#0a0a35" stroke-width="1" stroke-linejoin="round"/>
<defs><linearGradient id="ga3" gradientUnits="userSpaceOnUse" x1="0" y1="126" x2="0" y2="215.5"><stop offset="0" stop-color="#0a0a35"/><stop offset="0.16" stop-color="#0a0a35"/><stop offset="0.60" stop-color="#d7e87a"/><stop offset="1" stop-color="#d7e87a"/></linearGradient></defs><rect x="863.10" y="126.0" width="7.6" height="80.5" fill="url(#ga3)" stroke="#0a0a35" stroke-width="0.9"/><path d="M853.9,197.0 L856.5,194.4 L863.1,203.7 L863.1,191.0 L870.7,191.0 L870.7,203.7 L877.3,194.4 L879.9,197.0 L879.9,201.0 L866.9,215.5 L853.9,201.0 Z" fill="#d7e87a"/><path d="M863.1,203.7 L856.5,194.4 L853.9,197.0 L853.9,201.0 L866.9,215.5 L879.9,201.0 L879.9,197.0 L877.3,194.4 L870.7,203.7" fill="none" stroke="#0a0a35" stroke-width="1" stroke-linejoin="round"/>
<path d="M866.9,214 V221" stroke="#0a0a35" stroke-width="1.2"/>
<defs><linearGradient id="ga4" gradientUnits="userSpaceOnUse" x1="0" y1="434" x2="0" y2="528"><stop offset="0" stop-color="#0a0a35"/><stop offset="0.18" stop-color="#0a0a35"/><stop offset="0.58" stop-color="#d7e87a"/><stop offset="1" stop-color="#d7e87a"/></linearGradient></defs><rect x="817.90" y="434.0" width="7" height="85.0" fill="url(#ga4)" stroke="#0a0a35" stroke-width="0.9"/><path d="M808.4,509.5 L811.0,506.9 L817.9,516.5 L817.9,503.5 L824.9,503.5 L824.9,516.5 L831.8,506.9 L834.4,509.5 L834.4,513.5 L821.4,528.0 L808.4,513.5 Z" fill="#d7e87a"/><path d="M817.9,516.5 L811.0,506.9 L808.4,509.5 L808.4,513.5 L821.4,528.0 L834.4,513.5 L834.4,509.5 L831.8,506.9 L824.9,516.5" fill="none" stroke="#0a0a35" stroke-width="1" stroke-linejoin="round"/>
<defs><linearGradient id="ga5" gradientUnits="userSpaceOnUse" x1="0" y1="497" x2="0" y2="600.5"><stop offset="0" stop-color="#0a0a35"/><stop offset="0.10" stop-color="#0a0a35"/><stop offset="0.62" stop-color="#9aa85c"/><stop offset="1" stop-color="#9aa85c"/></linearGradient></defs><rect x="409.90" y="497.0" width="7.4" height="94.5" fill="url(#ga5)" stroke="#0a0a35" stroke-width="0.9"/><path d="M401.1,583.0 L403.7,580.4 L409.9,588.8 L409.9,577.0 L417.3,577.0 L417.3,588.8 L423.5,580.4 L426.1,583.0 L426.1,587.0 L413.6,600.5 L401.1,587.0 Z" fill="#9aa85c"/><path d="M409.9,588.8 L403.7,580.4 L401.1,583.0 L401.1,587.0 L413.6,600.5 L426.1,587.0 L426.1,583.0 L423.5,580.4 L417.3,588.8" fill="none" stroke="#0a0a35" stroke-width="1" stroke-linejoin="round"/>
<rect x="348.2" y="13.0" width="64.3" height="32.8" rx="4" fill="#0a0a35"/>
<circle cx="364.92" cy="29.40" r="12.2" fill="none" stroke="#dcea7a" stroke-width="1.9"/><text x="364.92" y="33.90" text-anchor="middle" font-family="Liberation Sans, sans-serif" font-weight="bold" font-size="12.6" fill="#dcea7a" stroke="#dcea7a" stroke-width="0.5" textLength="19.8" lengthAdjust="spacingAndGlyphs">RER</text>
<circle cx="395.46" cy="29.40" r="12.2" fill="none" stroke="#dcea7a" stroke-width="1.9"/><text x="395.46" y="36.20" text-anchor="middle" font-family="Liberation Sans, sans-serif" font-weight="normal" font-size="19" fill="#dcea7a" stroke="#dcea7a" stroke-width="0.55">M</text>
<rect x="434.2" y="32.5" width="63.3" height="33.0" rx="4" fill="#0a0a35"/>
<circle cx="450.66" cy="49.00" r="12.2" fill="none" stroke="#dcea7a" stroke-width="1.9"/><text x="450.66" y="53.50" text-anchor="middle" font-family="Liberation Sans, sans-serif" font-weight="bold" font-size="12.6" fill="#dcea7a" stroke="#dcea7a" stroke-width="0.5" textLength="19.8" lengthAdjust="spacingAndGlyphs">RER</text>
<circle cx="480.73" cy="49.00" r="12.2" fill="none" stroke="#dcea7a" stroke-width="1.9"/><text x="480.73" y="55.80" text-anchor="middle" font-family="Liberation Sans, sans-serif" font-weight="normal" font-size="19" fill="#dcea7a" stroke="#dcea7a" stroke-width="0.55">M</text>
<rect x="834.5" y="95.5" width="64.3" height="32.5" rx="4" fill="#0a0a35"/>
<circle cx="851.22" cy="111.75" r="12.2" fill="none" stroke="#dcea7a" stroke-width="1.9"/><text x="851.22" y="116.25" text-anchor="middle" font-family="Liberation Sans, sans-serif" font-weight="bold" font-size="12.6" fill="#dcea7a" stroke="#dcea7a" stroke-width="0.5" textLength="19.8" lengthAdjust="spacingAndGlyphs">RER</text>
<circle cx="881.76" cy="111.75" r="12.2" fill="none" stroke="#dcea7a" stroke-width="1.9"/><text x="881.76" y="118.55" text-anchor="middle" font-family="Liberation Sans, sans-serif" font-weight="normal" font-size="19" fill="#dcea7a" stroke="#dcea7a" stroke-width="0.55">M</text>
<rect x="790.0" y="404.2" width="62.5" height="32.0" rx="4" fill="#0a0a35"/>
<circle cx="806.25" cy="420.20" r="12.2" fill="none" stroke="#dcea7a" stroke-width="1.9"/><text x="806.25" y="424.70" text-anchor="middle" font-family="Liberation Sans, sans-serif" font-weight="bold" font-size="12.6" fill="#dcea7a" stroke="#dcea7a" stroke-width="0.5" textLength="19.8" lengthAdjust="spacingAndGlyphs">RER</text>
<circle cx="835.94" cy="420.20" r="12.2" fill="none" stroke="#dcea7a" stroke-width="1.9"/><text x="835.94" y="427.00" text-anchor="middle" font-family="Liberation Sans, sans-serif" font-weight="normal" font-size="19" fill="#dcea7a" stroke="#dcea7a" stroke-width="0.55">M</text>
<rect x="428.2" y="328.8" width="32.6" height="31.4" rx="4" fill="#0a0a35"/>
<circle cx="444.40" cy="344.40" r="12.2" fill="none" stroke="#dcea7a" stroke-width="1.9"/><text x="444.40" y="351.20" text-anchor="middle" font-family="Liberation Sans, sans-serif" font-weight="normal" font-size="19" fill="#dcea7a" stroke="#dcea7a" stroke-width="0.55">M</text>
<rect x="463.2" y="328.8" width="31.8" height="31.4" rx="4" fill="#0a0a35"/>
<circle cx="478.80" cy="344.40" r="12.8" fill="#ffcd00" stroke="#ffcd00" stroke-width="0.5"/><text x="478.80" y="351.60" text-anchor="middle" font-family="Liberation Sans, sans-serif" font-weight="bold" font-size="20" fill="#0a0a35" stroke="#0a0a35" stroke-width="0">1</text>
<rect x="395.5" y="605.0" width="32.8" height="31.8" rx="4" fill="#0a0a35"/>
<circle cx="411.90" cy="620.80" r="12.2" fill="none" stroke="#dcea7a" stroke-width="1.9"/><text x="411.90" y="627.00" text-anchor="middle" font-family="Liberation Sans, sans-serif" font-weight="normal" font-size="17.4" fill="#dcea7a" stroke="#dcea7a" stroke-width="0.55">M</text>
<rect x="430.5" y="605.0" width="31.5" height="31.8" rx="4" fill="#0a0a35"/>
<circle cx="446.20" cy="620.80" r="12.6" fill="#6a3593" stroke="#6a3593" stroke-width="0.5"/><text x="446.20" y="627.70" text-anchor="middle" font-family="Liberation Sans, sans-serif" font-weight="bold" font-size="19.4" fill="#ffffff" stroke="#ffffff" stroke-width="0.3" textLength="20.2" lengthAdjust="spacingAndGlyphs">14</text>
<rect x="465.8" y="604.0" width="33.0" height="32.8" rx="4" fill="#0a0a35"/>
<circle cx="482.30" cy="620.60" r="12.2" fill="none" stroke="#dcea7a" stroke-width="1.9"/><text x="482.30" y="624.70" text-anchor="middle" font-family="Liberation Sans, sans-serif" font-weight="bold" font-size="11.4" fill="#dcea7a" stroke="#dcea7a" stroke-width="0.5" textLength="19.2" lengthAdjust="spacingAndGlyphs">RER</text>
<rect x="501.6" y="605.0" width="32.3" height="31.8" rx="4" fill="#0a0a35"/>
<circle cx="517.70" cy="620.80" r="12.3" fill="none" stroke="#d9642f" stroke-width="1.9"/><text x="517.70" y="626.60" text-anchor="middle" font-family="Liberation Sans, sans-serif" font-weight="bold" font-size="16.4" fill="#d9642f" stroke="#d9642f" stroke-width="0.3">A</text>
<rect x="536.2" y="605.0" width="32.6" height="31.8" rx="4" fill="#0a0a35"/>
<circle cx="552.50" cy="620.80" r="12.3" fill="none" stroke="#17a65b" stroke-width="1.9"/><text x="552.50" y="626.90" text-anchor="middle" font-family="Liberation Sans, sans-serif" font-weight="bold" font-size="17" fill="#17a65b" stroke="#17a65b" stroke-width="0.3" textLength="11.4" lengthAdjust="spacingAndGlyphs">D</text>
<rect x="761.0" y="640.0" width="33.5" height="34.0" rx="4" fill="#0a0a35"/>
<circle cx="777.80" cy="657.00" r="12.8" fill="none" stroke="#dcea7a" stroke-width="1.9"/><text x="777.80" y="661.20" text-anchor="middle" font-family="Liberation Sans, sans-serif" font-weight="bold" font-size="11.8" fill="#dcea7a" stroke="#dcea7a" stroke-width="0.45" textLength="19.6" lengthAdjust="spacingAndGlyphs">BUS</text>
<rect x="149.3" y="82.9" width="36.2" height="36.2" rx="6.2" fill="#ffffff" opacity="0.92"/><rect x="150.6" y="84.2" width="33.6" height="33.6" rx="5" fill="#0a0a35"/>
<g transform="translate(150.60,84.20) scale(1.0500,1.0500)"><path d="M4.6,12.6 Q4.6,10.4 6.8,10.4 H14.4 Q16.6,10.4 16.6,12.6 V25.6 H15.2 V28 Q15.2,28.8 14.2,28.8 H13.2 Q12.4,28.8 12.4,28 V25.8 H8.6 V28 Q8.6,28.8 7.8,28.8 H6.8 Q5.8,28.8 5.8,28 V25.6 H4.6 Z" fill="#dcea7a"/><path d="M5.9,12.6 Q5.9,11.8 6.8,11.8 H14.4 Q15.3,11.8 15.3,12.6 V19.6 H5.9 Z" fill="#0a0a35"/><path d="M11.4,19.6 L13.4,15.6 L14.2,19.6 Z" fill="#dcea7a"/><circle cx="7.2" cy="22.8" r="0.9" fill="#0a0a35"/><circle cx="14" cy="22.8" r="0.9" fill="#0a0a35"/><path d="M2.6,15 H4.4 V17.8 H2.6 Z M16.8,15 H18.6 V17.8 H16.8 Z" fill="#dcea7a"/><path d="M28.6,2.8 Q29.8,2.2 29.6,3.6 L26.8,7.6 L27.4,13 L26.2,13.4 L24.6,9.4 L22.6,11.6 L22.8,13.4 L22,13.8 L21,11.6 L18.8,10.6 L19.2,9.8 L21,10 L23.2,8 L19.2,6.4 L19.6,5.2 L25,5.8 Z" fill="#dcea7a"/><path d="M24.6,15.4 V21.8 M19.4,21.8 H25.4" stroke="#dcea7a" stroke-width="1.2" stroke-dasharray="1.2 1" fill="none"/></g>
<rect x="309.9" y="60.9" width="35.2" height="36.2" rx="6.2" fill="#ffffff" opacity="0.92"/><rect x="311.2" y="62.2" width="32.6" height="33.6" rx="5" fill="#0a0a35"/>
<g transform="translate(311.20,62.20) scale(1.0188,1.0500)"><g transform="translate(3.2,6.2) scale(0.8,0.8)"><path d="M3,17.6 L5.6,17 L9.2,11.6 Q10,10.6 11.4,10.6 H20.6 Q22,10.6 22.8,11.6 L26.4,17 L29,17.6 L28.8,19 L27.4,19 Q28.2,20 28.2,21.2 V28.4 Q28.2,29.4 27.2,29.4 H25 Q24,29.4 24,28.4 V27.4 H8 V28.4 Q8,29.4 7,29.4 H4.8 Q3.8,29.4 3.8,28.4 V21.2 Q3.8,20 4.6,19 L3.2,19 Z" fill="#dcea7a"/><path d="M7.6,17.4 L10.4,12.6 Q10.8,12 11.6,12 H20.4 Q21.2,12 21.6,12.6 L24.4,17.4 Z" fill="#0a0a35"/><circle cx="7.4" cy="23" r="1.5" fill="#0a0a35"/><circle cx="24.6" cy="23" r="1.5" fill="#0a0a35"/><rect x="12.4" y="7" width="7.2" height="2.8" rx="0.5" fill="#dcea7a"/><circle cx="20" cy="13.6" r="1" fill="#dcea7a"/><path d="M18,17.4 Q18.2,14.9 20,14.9 Q21.8,14.9 22.2,17.4 Z" fill="#dcea7a"/></g><text x="16" y="10.6" text-anchor="middle" font-family="Liberation Sans, sans-serif" font-weight="bold" font-size="9.6" fill="#dcea7a" stroke="#dcea7a" stroke-width="0.3" textLength="21" lengthAdjust="spacingAndGlyphs">Taxis</text></g>
<rect x="415.3" y="137.7" width="34.6" height="34.6" rx="6.2" fill="#ffffff" opacity="0.92"/><rect x="416.6" y="139.0" width="32.0" height="32.0" rx="5" fill="#0a0a35"/>
<g transform="translate(416.60,139.00) scale(1.0000,1.0000)"><path d="M16,4.2 A11.2,11.2 0 1 0 21.5,25.8 L28.3,29.3 L25.3,23 A11.2,11.2 0 0 0 16,4.2 Z" fill="none" stroke="#fdc955" stroke-width="1.5" stroke-linejoin="round"/><circle cx="15.9" cy="10.6" r="1.9" fill="#fdc955"/><path d="M13.2,13.6 H17.8 V20.4 H19.3 V22.2 H12.9 V20.4 H14.6 V15.4 H13.2 Z" fill="#fdc955"/></g>
<rect x="519.1" y="146.7" width="36.2" height="36.2" rx="6.2" fill="#ffffff" opacity="0.92"/><rect x="520.4" y="148.0" width="33.6" height="33.6" rx="5" fill="#0a0a35"/>
<g transform="translate(520.40,148.00) scale(1.0500,1.0500)"><circle cx="15.6" cy="6.2" r="3.2" fill="none" stroke="#fdc955" stroke-width="1.1"/><path d="M15.6,4.4 V6.4 H17.2" fill="none" stroke="#fdc955" stroke-width="0.9"/><circle cx="6.6" cy="13.4" r="1.8" fill="#fdc955"/><path d="M2.6,14.2 Q2.6,24.2 8.8,25 L12.6,25" fill="none" stroke="#fdc955" stroke-width="1.5" stroke-linecap="round"/><path d="M5.6,16 Q7,15.2 8.2,16.4 L9.6,18.2 L13.4,17.6 L13.6,18.9 L9.8,20 L10.6,21.2 L14.6,21 L17,26.4 L15.2,27 L13.4,23.4 L9.4,23.6 Q7.6,23.4 6.8,21.6 Z" fill="#fdc955"/><path d="M14.6,24 L16.4,28.6" stroke="#fdc955" stroke-width="1.3"/><rect x="19.8" y="22.6" width="9.4" height="6.2" rx="1.2" fill="#fdc955"/><path d="M22.4,22.6 Q22.6,19.6 24.6,19.6 Q26.6,19.6 26.8,22.6" fill="none" stroke="#fdc955" stroke-width="1.1"/></g>
<rect x="587.7" y="129.7" width="36.2" height="36.0" rx="6.2" fill="#ffffff" opacity="0.92"/><rect x="589.0" y="131.0" width="33.6" height="33.4" rx="5" fill="#0a0a35"/>
<g transform="translate(589.00,131.00) scale(1.0500,1.0437)"><circle cx="7.6" cy="11.6" r="2" fill="#fdc955"/><path d="M4.2,19.5 Q4.2,14.6 7.6,14.4 Q9.6,14.4 10.8,15.8 L14.6,15.2 L14.9,16.7 L11.2,17.9 L11.2,19.5 Z" fill="#fdc955"/><rect x="2.3" y="20.2" width="12.4" height="8.6" rx="1.6" fill="#fdc955"/><path d="M16.6,6.2 L19.2,5.4 L19.2,20 L16.6,20.6 Z" fill="#d9a93f"/><path d="M20,5.6 L23.3,3.8 L20.6,20.2 L18.6,20.2 Z" fill="#fdc955" stroke="#0a0a35" stroke-width="0.5"/><path d="M23.6,3.6 L28.8,5 L25.8,19 L20.8,19.6 Z" fill="#fdc955" stroke="#0a0a35" stroke-width="0.5"/></g>
<rect x="947.7" y="190.3" width="34.6" height="34.6" rx="6.2" fill="#ffffff" opacity="0.92"/><rect x="949.0" y="191.6" width="32.0" height="32.0" rx="5" fill="#0a0a35"/>
<g transform="translate(949.00,191.60) scale(1.0000,1.0000)"><path d="M16,4.2 A11.2,11.2 0 1 0 21.5,25.8 L28.3,29.3 L25.3,23 A11.2,11.2 0 0 0 16,4.2 Z" fill="none" stroke="#fdc955" stroke-width="1.5" stroke-linejoin="round"/><circle cx="15.9" cy="10.6" r="1.9" fill="#fdc955"/><path d="M13.2,13.6 H17.8 V20.4 H19.3 V22.2 H12.9 V20.4 H14.6 V15.4 H13.2 Z" fill="#fdc955"/></g>
<rect x="290.3" y="429.7" width="37.0" height="38.2" rx="6.2" fill="#ffffff" opacity="0.92"/><rect x="291.6" y="431.0" width="34.4" height="35.6" rx="5" fill="#0a0a35"/>
<g transform="translate(291.60,431.00) scale(1.0750,1.1125)"><path d="M3,16.400000000000002 L5.6,15.8 L9.2,10.4 Q10,9.4 11.4,9.4 H20.6 Q22,9.4 22.8,10.4 L26.4,15.8 L29,16.400000000000002 L28.8,17.8 L27.4,17.8 Q28.2,18.8 28.2,20.0 V27.2 Q28.2,28.2 27.2,28.2 H25 Q24,28.2 24,27.2 V26.2 H8 V27.2 Q8,28.2 7,28.2 H4.8 Q3.8,28.2 3.8,27.2 V20.0 Q3.8,18.8 4.6,17.8 L3.2,17.8 Z" fill="#dcea7a"/><path d="M7.6,16.2 L10.4,11.4 Q10.8,10.8 11.6,10.8 H20.4 Q21.2,10.8 21.6,11.4 L24.4,16.2 Z" fill="#0a0a35"/><circle cx="7.4" cy="21.8" r="1.5" fill="#0a0a35"/><circle cx="24.6" cy="21.8" r="1.5" fill="#0a0a35"/><circle cx="15" cy="5.4" r="2.6" fill="none" stroke="#dcea7a" stroke-width="1.2"/><path d="M17.6,5.2 H27.8 L27.2,7.4 L25.4,7.6 L24.8,6.4 H17.6 Z" fill="#dcea7a"/><path d="M12.4,5.6 L9.8,6.6 M4.2,7 L9.4,4.8 L10.4,6.8 L5.2,9.4 Z" fill="#dcea7a" stroke="#dcea7a" stroke-width="1"/></g>
<rect x="879.7" y="470.9" width="32.6" height="32.2" rx="6.2" fill="#ffffff" opacity="0.92"/><rect x="881.0" y="472.2" width="30.0" height="29.6" rx="5" fill="#0a0a35"/>
<g transform="translate(881.00,472.20) scale(0.9375,0.9250)"><path d="M16,4.2 A11.2,11.2 0 1 0 21.5,25.8 L28.3,29.3 L25.3,23 A11.2,11.2 0 0 0 16,4.2 Z" fill="none" stroke="#fdc955" stroke-width="1.5" stroke-linejoin="round"/><circle cx="15.9" cy="10.6" r="1.9" fill="#fdc955"/><path d="M13.2,13.6 H17.8 V20.4 H19.3 V22.2 H12.9 V20.4 H14.6 V15.4 H13.2 Z" fill="#fdc955"/></g>
<rect x="1004.9" y="452.7" width="33.6" height="33.6" rx="6.2" fill="#ffffff" opacity="0.92"/><rect x="1006.2" y="454.0" width="31.0" height="31.0" rx="5" fill="#0a0a35"/>
<g transform="translate(1006.20,454.00) scale(0.9688,0.9688)"><circle cx="7.6" cy="11.6" r="2" fill="#fdc955"/><path d="M4.2,19.5 Q4.2,14.6 7.6,14.4 Q9.6,14.4 10.8,15.8 L14.6,15.2 L14.9,16.7 L11.2,17.9 L11.2,19.5 Z" fill="#fdc955"/><rect x="2.3" y="20.2" width="12.4" height="8.6" rx="1.6" fill="#fdc955"/><path d="M16.6,6.2 L19.2,5.4 L19.2,20 L16.6,20.6 Z" fill="#d9a93f"/><path d="M20,5.6 L23.3,3.8 L20.6,20.2 L18.6,20.2 Z" fill="#fdc955" stroke="#0a0a35" stroke-width="0.5"/><path d="M23.6,3.6 L28.8,5 L25.8,19 L20.8,19.6 Z" fill="#fdc955" stroke="#0a0a35" stroke-width="0.5"/></g>
<rect x="763.7" y="583.7" width="35.2" height="36.2" rx="6.2" fill="#ffffff" opacity="0.92"/><rect x="765.0" y="585.0" width="32.6" height="33.6" rx="5" fill="#0a0a35"/>
<g transform="translate(765.00,585.00) scale(1.0188,1.0500)"><path d="M10.2,10.2 Q10.4,4.2 15.6,4.2 Q20.6,4.2 20.8,10.2" fill="none" stroke="#fdc955" stroke-width="2.2"/><rect x="2.8" y="9.8" width="26" height="18.6" rx="3.2" fill="#fdc955"/><circle cx="9.4" cy="19" r="3.4" fill="#0a0a35"/><circle cx="9.4" cy="19" r="1.5" fill="#fdc955"/><path d="M12.4,18 H25.6 V19.9 L24.6,22.2 H20.6 L19.8,20.2 H12.4 Z" fill="#0a0a35"/></g>
<rect x="800.3" y="592.3" width="35.6" height="36.6" rx="6.2" fill="#ffffff" opacity="0.92"/><rect x="801.6" y="593.6" width="33.0" height="34.0" rx="5" fill="#0a0a35"/>
<g transform="translate(801.60,593.60) scale(1.0312,1.0625)"><path d="M3.6,4.6 H13.6 L16.4,7.4 V10.2 L13.6,13.2 H3.6 Q2.8,13.2 2.8,12.2 V5.6 Q2.8,4.6 3.6,4.6 Z" fill="#fdc955"/><circle cx="17.4" cy="8.8" r="1.5" fill="none" stroke="#fdc955" stroke-width="1"/><path d="M18.8,8.8 H23.6" stroke="#fdc955" stroke-width="1"/><path d="M20.4,6.6 Q20.6,4.6 22.6,4.6 Q24.6,4.6 24.6,6.8 V12" fill="none" stroke="#fdc955" stroke-width="1.2"/><path d="M20.4,11.8 L28.6,11.8 L24.4,28.2 Z" fill="#fdc955"/><path d="M24.4,12 V28" stroke="#0a0a35" stroke-width="0.5"/><path d="M2.8,19.8 L10,17.2 Q12.4,16.6 14,17.6 L19.6,17.8 Q20.6,18.2 20.2,19.2 L20.6,25.4 Q20,27 18,27 L3,26.8 Z" fill="#fdc955"/><path d="M14.6,20 H20 M14.6,22 H20.2 M14.6,24 H20.2" stroke="#0a0a35" stroke-width="0.45"/><text x="6.1" y="12" font-family="Liberation Sans, sans-serif" font-weight="bold" font-size="8.5" fill="#0a0a35">?</text></g>
<rect x="12.8" y="540.0" width="31.2" height="31.6" rx="4.5" fill="#0a0a35"/>
<g transform="translate(12.80,540.00) scale(0.9750,0.9875)"><circle cx="7.6" cy="11.6" r="2" fill="#fdc955"/><path d="M4.2,19.5 Q4.2,14.6 7.6,14.4 Q9.6,14.4 10.8,15.8 L14.6,15.2 L14.9,16.7 L11.2,17.9 L11.2,19.5 Z" fill="#fdc955"/><rect x="2.3" y="20.2" width="12.4" height="8.6" rx="1.6" fill="#fdc955"/><path d="M16.6,6.2 L19.2,5.4 L19.2,20 L16.6,20.6 Z" fill="#d9a93f"/><path d="M20,5.6 L23.3,3.8 L20.6,20.2 L18.6,20.2 Z" fill="#fdc955" stroke="#0a0a35" stroke-width="0.5"/><path d="M23.6,3.6 L28.8,5 L25.8,19 L20.8,19.6 Z" fill="#fdc955" stroke="#0a0a35" stroke-width="0.5"/></g>
<rect x="12.8" y="576.8" width="31.2" height="31.6" rx="4.5" fill="#0a0a35"/>
<g transform="translate(12.80,576.80) scale(0.9750,0.9875)"><path d="M16,4.2 A11.2,11.2 0 1 0 21.5,25.8 L28.3,29.3 L25.3,23 A11.2,11.2 0 0 0 16,4.2 Z" fill="none" stroke="#fdc955" stroke-width="1.5" stroke-linejoin="round"/><circle cx="15.9" cy="10.6" r="1.9" fill="#fdc955"/><path d="M13.2,13.6 H17.8 V20.4 H19.3 V22.2 H12.9 V20.4 H14.6 V15.4 H13.2 Z" fill="#fdc955"/></g>
<rect x="12.8" y="615.2" width="31.2" height="31.6" rx="4.5" fill="#0a0a35"/>
<g transform="translate(12.80,615.20) scale(0.9750,0.9875)"><path d="M10.2,10.2 Q10.4,4.2 15.6,4.2 Q20.6,4.2 20.8,10.2" fill="none" stroke="#fdc955" stroke-width="2.2"/><rect x="2.8" y="9.8" width="26" height="18.6" rx="3.2" fill="#fdc955"/><circle cx="9.4" cy="19" r="3.4" fill="#0a0a35"/><circle cx="9.4" cy="19" r="1.5" fill="#fdc955"/><path d="M12.4,18 H25.6 V19.9 L24.6,22.2 H20.6 L19.8,20.2 H12.4 Z" fill="#0a0a35"/></g>
<rect x="12.8" y="652.0" width="31.2" height="31.6" rx="4.5" fill="#0a0a35"/>
<g transform="translate(12.80,652.00) scale(0.9750,0.9875)"><circle cx="15.6" cy="6.2" r="3.2" fill="none" stroke="#fdc955" stroke-width="1.1"/><path d="M15.6,4.4 V6.4 H17.2" fill="none" stroke="#fdc955" stroke-width="0.9"/><circle cx="6.6" cy="13.4" r="1.8" fill="#fdc955"/><path d="M2.6,14.2 Q2.6,24.2 8.8,25 L12.6,25" fill="none" stroke="#fdc955" stroke-width="1.5" stroke-linecap="round"/><path d="M5.6,16 Q7,15.2 8.2,16.4 L9.6,18.2 L13.4,17.6 L13.6,18.9 L9.8,20 L10.6,21.2 L14.6,21 L17,26.4 L15.2,27 L13.4,23.4 L9.4,23.6 Q7.6,23.4 6.8,21.6 Z" fill="#fdc955"/><path d="M14.6,24 L16.4,28.6" stroke="#fdc955" stroke-width="1.3"/><rect x="19.8" y="22.6" width="9.4" height="6.2" rx="1.2" fill="#fdc955"/><path d="M22.4,22.6 Q22.6,19.6 24.6,19.6 Q26.6,19.6 26.8,22.6" fill="none" stroke="#fdc955" stroke-width="1.1"/></g>
<rect x="12.8" y="688.3" width="31.2" height="31.6" rx="4.5" fill="#0a0a35"/>
<g transform="translate(12.80,688.30) scale(0.9750,0.9875)"><path d="M3.6,4.6 H13.6 L16.4,7.4 V10.2 L13.6,13.2 H3.6 Q2.8,13.2 2.8,12.2 V5.6 Q2.8,4.6 3.6,4.6 Z" fill="#fdc955"/><circle cx="17.4" cy="8.8" r="1.5" fill="none" stroke="#fdc955" stroke-width="1"/><path d="M18.8,8.8 H23.6" stroke="#fdc955" stroke-width="1"/><path d="M20.4,6.6 Q20.6,4.6 22.6,4.6 Q24.6,4.6 24.6,6.8 V12" fill="none" stroke="#fdc955" stroke-width="1.2"/><path d="M20.4,11.8 L28.6,11.8 L24.4,28.2 Z" fill="#fdc955"/><path d="M24.4,12 V28" stroke="#0a0a35" stroke-width="0.5"/><path d="M2.8,19.8 L10,17.2 Q12.4,16.6 14,17.6 L19.6,17.8 Q20.6,18.2 20.2,19.2 L20.6,25.4 Q20,27 18,27 L3,26.8 Z" fill="#fdc955"/><path d="M14.6,20 H20 M14.6,22 H20.2 M14.6,24 H20.2" stroke="#0a0a35" stroke-width="0.45"/><text x="6.1" y="12" font-family="Liberation Sans, sans-serif" font-weight="bold" font-size="8.5" fill="#0a0a35">?</text></g>
<rect x="12.8" y="724.6" width="31.2" height="31.6" rx="4.5" fill="#0a0a35"/>
<g transform="translate(12.80,724.60) scale(0.9750,0.9875)"><path d="M4.6,12.6 Q4.6,10.4 6.8,10.4 H14.4 Q16.6,10.4 16.6,12.6 V25.6 H15.2 V28 Q15.2,28.8 14.2,28.8 H13.2 Q12.4,28.8 12.4,28 V25.8 H8.6 V28 Q8.6,28.8 7.8,28.8 H6.8 Q5.8,28.8 5.8,28 V25.6 H4.6 Z" fill="#dcea7a"/><path d="M5.9,12.6 Q5.9,11.8 6.8,11.8 H14.4 Q15.3,11.8 15.3,12.6 V19.6 H5.9 Z" fill="#0a0a35"/><path d="M11.4,19.6 L13.4,15.6 L14.2,19.6 Z" fill="#dcea7a"/><circle cx="7.2" cy="22.8" r="0.9" fill="#0a0a35"/><circle cx="14" cy="22.8" r="0.9" fill="#0a0a35"/><path d="M2.6,15 H4.4 V17.8 H2.6 Z M16.8,15 H18.6 V17.8 H16.8 Z" fill="#dcea7a"/><path d="M28.6,2.8 Q29.8,2.2 29.6,3.6 L26.8,7.6 L27.4,13 L26.2,13.4 L24.6,9.4 L22.6,11.6 L22.8,13.4 L22,13.8 L21,11.6 L18.8,10.6 L19.2,9.8 L21,10 L23.2,8 L19.2,6.4 L19.6,5.2 L25,5.8 Z" fill="#dcea7a"/><path d="M24.6,15.4 V21.8 M19.4,21.8 H25.4" stroke="#dcea7a" stroke-width="1.2" stroke-dasharray="1.2 1" fill="none"/></g>
<rect x="12.8" y="760.6" width="31.2" height="31.6" rx="4.5" fill="#0a0a35"/>
<g transform="translate(12.80,760.60) scale(0.9750,0.9875)"><path d="M3,16.400000000000002 L5.6,15.8 L9.2,10.4 Q10,9.4 11.4,9.4 H20.6 Q22,9.4 22.8,10.4 L26.4,15.8 L29,16.400000000000002 L28.8,17.8 L27.4,17.8 Q28.2,18.8 28.2,20.0 V27.2 Q28.2,28.2 27.2,28.2 H25 Q24,28.2 24,27.2 V26.2 H8 V27.2 Q8,28.2 7,28.2 H4.8 Q3.8,28.2 3.8,27.2 V20.0 Q3.8,18.8 4.6,17.8 L3.2,17.8 Z" fill="#dcea7a"/><path d="M7.6,16.2 L10.4,11.4 Q10.8,10.8 11.6,10.8 H20.4 Q21.2,10.8 21.6,11.4 L24.4,16.2 Z" fill="#0a0a35"/><circle cx="7.4" cy="21.8" r="1.5" fill="#0a0a35"/><circle cx="24.6" cy="21.8" r="1.5" fill="#0a0a35"/><circle cx="15" cy="5.4" r="2.6" fill="none" stroke="#dcea7a" stroke-width="1.2"/><path d="M17.6,5.2 H27.8 L27.2,7.4 L25.4,7.6 L24.8,6.4 H17.6 Z" fill="#dcea7a"/><path d="M12.4,5.6 L9.8,6.6 M4.2,7 L9.4,4.8 L10.4,6.8 L5.2,9.4 Z" fill="#dcea7a" stroke="#dcea7a" stroke-width="1"/></g>
</g>
<g id="labels">
<defs><filter id="sh" x="-10%" y="-10%" width="125%" height="130%"><feGaussianBlur in="SourceAlpha" stdDeviation="1.6"/><feOffset dx="1.5" dy="2"/><feComponentTransfer><feFuncA type="linear" slope="0.55"/></feComponentTransfer><feMerge><feMergeNode/><feMergeNode in="SourceGraphic"/></feMerge></filter></defs>
<rect x="474.4" y="198.1" width="112.4" height="80.4" rx="11" fill="#2f2d2b" stroke="#7fa3cf" stroke-width="2.4" filter="url(#sh)"/><text x="529.8" y="227.2" text-anchor="middle" class="lib" font-family="Liberation Sans, sans-serif" font-weight="bold" font-size="27.8" fill="#ffffff" textLength="69.6" lengthAdjust="spacingAndGlyphs">Hall 1</text>
<rect x="510.99999999999994" y="235.8" width="38.6" height="12.4" rx="6.2" fill="#7ea6d6"/><text x="530.3" y="245.4" text-anchor="middle" font-family="Liberation Sans, sans-serif" font-size="10.6" font-weight="bold" fill="#27303c" textLength="25.8" lengthAdjust="spacingAndGlyphs">Voies</text>
<text x="511.6" y="266" text-anchor="middle" font-family="Liberation Sans, sans-serif" font-weight="bold" font-size="19.2" fill="#86aee0">A</text>
<text x="529.8" y="266" text-anchor="middle" font-family="Liberation Sans, sans-serif" font-weight="bold" font-size="16.5" fill="#ffffff">à</text>
<text x="548.6" y="266" text-anchor="middle" font-family="Liberation Sans, sans-serif" font-weight="bold" font-size="19.2" fill="#86aee0" textLength="12.2" lengthAdjust="spacingAndGlyphs">N</text>
<path d="M502.3,270.3 H520.4 M539.6,270.3 H557.8" stroke="#86aee0" stroke-width="1.3"/>
<rect x="996" y="197.3" width="113.8" height="80.5" rx="11" fill="#2f2d2b" stroke="#7fa3cf" stroke-width="2.4" filter="url(#sh)"/><text x="1052.9" y="226.2" text-anchor="middle" class="lib" font-family="Liberation Sans, sans-serif" font-weight="bold" font-size="27.8" fill="#ffffff" textLength="73.2" lengthAdjust="spacingAndGlyphs">Hall 2</text>
<rect x="1033.4" y="234.8" width="38.6" height="12.4" rx="6.2" fill="#7ea6d6"/><text x="1052.7" y="244.4" text-anchor="middle" font-family="Liberation Sans, sans-serif" font-size="10.6" font-weight="bold" fill="#27303c" textLength="25.8" lengthAdjust="spacingAndGlyphs">Voies</text>
<text x="1027.5" y="264.8" text-anchor="middle" font-family="Liberation Sans, sans-serif" font-size="19.4" fill="#86aee0">5</text>
<text x="1052" y="264.8" text-anchor="middle" font-family="Liberation Sans, sans-serif" font-weight="bold" font-size="16.5" fill="#ffffff">à</text>
<text x="1077.8" y="264.8" text-anchor="middle" font-family="Liberation Sans, sans-serif" font-size="19.4" fill="#86aee0" textLength="23.5" lengthAdjust="spacingAndGlyphs">23</text>
<path d="M1015.7,269.3 H1039.2 M1066,269.3 H1089.6" stroke="#86aee0" stroke-width="1.3"/>
<rect x="1052.4" y="399" width="108.6" height="30.4" rx="8" fill="#2f2d2b" stroke="#7fa3cf" stroke-width="2.4" filter="url(#sh)"/><text x="1106.5" y="424.2" text-anchor="middle" class="lib" font-family="Liberation Sans, sans-serif" font-weight="bold" font-size="27.8" fill="#ffffff" textLength="73" lengthAdjust="spacingAndGlyphs">Hall 3</text>
<text x="25.8" y="209.6" transform="rotate(-31.1 25.8 209.6)" font-family="DejaVu Sans, Liberation Sans, sans-serif" font-size="18.5" font-weight="normal" font-style="normal" fill="#111111" text-anchor="start" textLength="149" lengthAdjust="spacingAndGlyphs">Boulevard Diderot</text>
<text x="189.5" y="198" font-family="DejaVu Sans, Liberation Sans, sans-serif" font-size="17" font-weight="normal" font-style="normal" fill="#8b8e91" text-anchor="end" textLength="48" lengthAdjust="spacingAndGlyphs">Parvis</text>
<text x="189.5" y="215" font-family="DejaVu Sans, Liberation Sans, sans-serif" font-size="12.6" font-weight="normal" font-style="normal" fill="#8b8e91" text-anchor="end" textLength="121" lengthAdjust="spacingAndGlyphs">Place Louis Armand</text>
<text x="576.5" y="96.3" transform="rotate(10.7 576.5 96.3)" font-family="DejaVu Sans, Liberation Sans, sans-serif" font-size="18.2" font-weight="normal" font-style="normal" fill="#7d8184" text-anchor="start" textLength="185" lengthAdjust="spacingAndGlyphs">Galerie des fresques</text>
<text x="303.8" y="418.3" transform="rotate(-30.6 303.8 418.3)" font-family="DejaVu Sans, Liberation Sans, sans-serif" font-size="18.2" font-weight="normal" font-style="normal" fill="#7d8184" text-anchor="start" textLength="141" lengthAdjust="spacingAndGlyphs">Galerie Diderot</text>
<text x="1123" y="366.3" transform="rotate(10.9 1123 366.3)" font-family="DejaVu Sans, Liberation Sans, sans-serif" font-size="18.5" font-weight="normal" font-style="normal" fill="#111111" text-anchor="start" textLength="169" lengthAdjust="spacingAndGlyphs">Place Henri Frenay</text>
<text x="630.3" y="628" transform="rotate(11.2 630.3 628)" font-family="DejaVu Sans, Liberation Sans, sans-serif" font-size="18.3" font-weight="normal" font-style="normal" fill="#111111" text-anchor="start" textLength="118.5" lengthAdjust="spacingAndGlyphs">Rue de Bercy</text>
<text x="200.8" y="306.6" font-family="DejaVu Sans, Liberation Sans, sans-serif" font-size="12.9" font-style="normal" fill="#0c0c10" stroke="#0c0c10" stroke-width="0.25" textLength="43" lengthAdjust="spacingAndGlyphs">Niveau</text>
<text x="201" y="322.4" font-family="DejaVu Sans, Liberation Sans, sans-serif" font-size="12.9" font-style="italic" fill="#0c0c10" stroke="#0c0c10" stroke-width="0.25" textLength="32.3" lengthAdjust="spacingAndGlyphs">Level</text>
<text x="250.6" y="315.6" font-family="DejaVu Sans, Liberation Sans, sans-serif" font-size="34.6" font-style="normal" fill="#0c0c10" stroke="#0c0c10" stroke-width="0.3">0</text>
<text x="88.1" y="416.6" font-family="DejaVu Sans, Liberation Sans, sans-serif" font-size="12.9" font-style="normal" fill="#0c0c10" stroke="#0c0c10" stroke-width="0.25" textLength="43" lengthAdjust="spacingAndGlyphs">Niveau</text>
<text x="88.3" y="432.4" font-family="DejaVu Sans, Liberation Sans, sans-serif" font-size="12.9" font-style="italic" fill="#0c0c10" stroke="#0c0c10" stroke-width="0.25" textLength="32.3" lengthAdjust="spacingAndGlyphs">Level</text>
<text x="142.2" y="425" font-family="Liberation Sans, sans-serif" font-size="33.8" font-style="normal" fill="#0c0c10" stroke="#0c0c10" stroke-width="0.7">-1</text>
<rect x="154" y="421.4" width="7.1" height="4.6" fill="#ffffff"/><rect x="166.2" y="421.4" width="6.5" height="4.6" fill="#ffffff"/>
<text x="54.5" y="559.6" font-family="DejaVu Sans, Liberation Sans, sans-serif" font-size="15.4" fill="#0d0d33" stroke="#0d0d33" stroke-width="0.22" textLength="112" lengthAdjust="spacingAndGlyphs">Vente/<tspan font-style="italic">Ticketing</tspan></text>
<text x="54.5" y="596.5" font-family="DejaVu Sans, Liberation Sans, sans-serif" font-size="15.4" fill="#0d0d33" stroke="#0d0d33" stroke-width="0.22" textLength="86" lengthAdjust="spacingAndGlyphs">Information<tspan font-style="italic"></tspan></text>
<text x="54.5" y="635.5" font-family="DejaVu Sans, Liberation Sans, sans-serif" font-size="15.4" fill="#0d0d33" stroke="#0d0d33" stroke-width="0.22" textLength="170" lengthAdjust="spacingAndGlyphs">Consignes/<tspan font-style="italic">Left luggage</tspan></text>
<text x="54.5" y="671.9" font-family="DejaVu Sans, Liberation Sans, sans-serif" font-size="15.4" fill="#0d0d33" stroke="#0d0d33" stroke-width="0.22" textLength="238.5" lengthAdjust="spacingAndGlyphs">Salon «Grand Voyageur»/<tspan font-style="italic">Lounge</tspan></text>
<text x="54.5" y="709" font-family="DejaVu Sans, Liberation Sans, sans-serif" font-size="15.4" fill="#0d0d33" stroke="#0d0d33" stroke-width="0.22" textLength="224" lengthAdjust="spacingAndGlyphs">Objets trouvés/<tspan font-style="italic">Lost and found</tspan></text>
<text x="54.5" y="745.4" font-family="DejaVu Sans, Liberation Sans, sans-serif" font-size="15.4" fill="#0d0d33" stroke="#0d0d33" stroke-width="0.22" textLength="238" lengthAdjust="spacingAndGlyphs">Cars Air France/<tspan font-style="italic">Air France buses</tspan></text>
<text x="54.5" y="781.9" font-family="DejaVu Sans, Liberation Sans, sans-serif" font-size="15.4" fill="#0d0d33" stroke="#0d0d33" stroke-width="0.22" textLength="228.5" lengthAdjust="spacingAndGlyphs">Location de véhicule/<tspan font-style="italic">Car rental</tspan></text>
</g>
</svg>
</body></html>
